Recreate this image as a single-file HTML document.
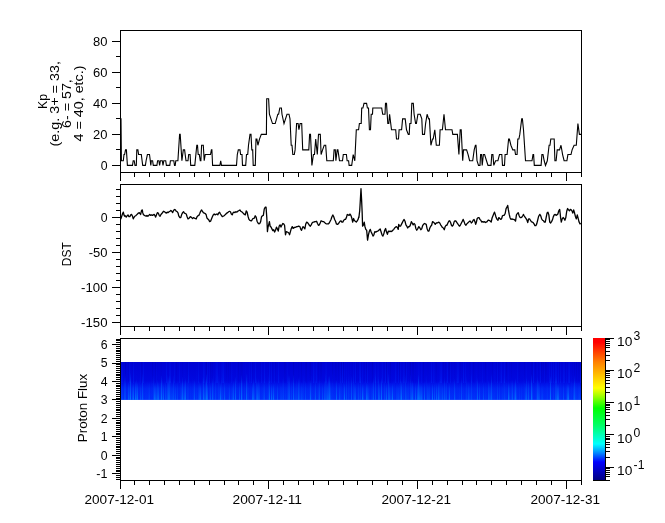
<!DOCTYPE html>
<html><head><meta charset="utf-8"><style>
html,body{margin:0;padding:0;background:#fff;}
svg{display:block;}
text{font-family:"Liberation Sans",sans-serif;fill:#000;}
</style></head><body>
<svg width="665" height="523" viewBox="0 0 665 523">
<rect width="665" height="523" fill="#fff"/>
<defs><linearGradient id="bb" x1="0" y1="0" x2="0" y2="1"><stop offset="0" stop-color="#0002d4"/><stop offset="0.5" stop-color="#0008e0"/><stop offset="0.6" stop-color="#0014ea"/><stop offset="0.7" stop-color="#0020f2"/><stop offset="1" stop-color="#0028fa"/></linearGradient><linearGradient id="st" x1="0" y1="0" x2="0" y2="1"><stop offset="0" stop-color="#0050ff" stop-opacity="0"/><stop offset="0.35" stop-color="#0060ff" stop-opacity="0.6"/><stop offset="1" stop-color="#0090ff" stop-opacity="1"/></linearGradient><linearGradient id="up" x1="0" y1="0" x2="0" y2="1"><stop offset="0" stop-color="#0028ff" stop-opacity="0.3"/><stop offset="1" stop-color="#0030ff" stop-opacity="0.8"/></linearGradient><linearGradient id="dk" x1="0" y1="0" x2="0" y2="1"><stop offset="0" stop-color="#0000a8" stop-opacity="1"/><stop offset="1" stop-color="#0000c8" stop-opacity="0.5"/></linearGradient></defs><rect x="121" y="362.00" width="460" height="37.92" fill="url(#bb)"/><rect x="121" y="362.00" width="1" height="21.00" fill="url(#up)" opacity="0.28"/><rect x="121" y="374.46" width="1" height="25.46" fill="url(#st)" opacity="0.18"/><rect x="122" y="362.00" width="1" height="21.00" fill="url(#up)" opacity="0.29"/><rect x="122" y="382.66" width="1" height="17.26" fill="url(#st)" opacity="0.21"/><rect x="123" y="376.71" width="1" height="23.21" fill="url(#st)" opacity="0.05"/><rect x="124" y="362.00" width="1" height="21.00" fill="url(#up)" opacity="0.05"/><rect x="124" y="376.44" width="1" height="23.48" fill="url(#st)" opacity="0.36"/><rect x="125" y="362.00" width="1" height="21.00" fill="url(#dk)" opacity="0.39"/><rect x="125" y="373.69" width="1" height="26.23" fill="url(#st)" opacity="0.32"/><rect x="126" y="382.75" width="1" height="17.17" fill="url(#st)" opacity="0.05"/><rect x="127" y="362.00" width="1" height="21.00" fill="url(#up)" opacity="0.03"/><rect x="127" y="382.64" width="1" height="17.28" fill="url(#st)" opacity="0.08"/><rect x="128" y="362.00" width="1" height="21.00" fill="url(#dk)" opacity="0.19"/><rect x="128" y="381.06" width="1" height="18.86" fill="url(#st)" opacity="0.53"/><rect x="129" y="362.00" width="1" height="21.00" fill="url(#up)" opacity="0.32"/><rect x="129" y="380.50" width="1" height="19.42" fill="url(#st)" opacity="0.33"/><rect x="130" y="362.00" width="1" height="21.00" fill="url(#up)" opacity="0.14"/><rect x="130" y="373.05" width="1" height="26.87" fill="url(#st)" opacity="0.74"/><rect x="131" y="377.99" width="1" height="21.93" fill="url(#st)" opacity="0.11"/><rect x="132" y="362.00" width="1" height="21.00" fill="url(#dk)" opacity="0.12"/><rect x="132" y="382.95" width="1" height="16.97" fill="url(#st)" opacity="0.44"/><rect x="133" y="362.00" width="1" height="21.00" fill="url(#up)" opacity="0.42"/><rect x="133" y="381.51" width="1" height="18.41" fill="url(#st)" opacity="0.69"/><rect x="134" y="383.00" width="1" height="16.92" fill="url(#st)" opacity="0.07"/><rect x="135" y="380.79" width="1" height="19.13" fill="url(#st)" opacity="0.72"/><rect x="136" y="362.00" width="1" height="21.00" fill="url(#up)" opacity="0.04"/><rect x="136" y="379.04" width="1" height="20.88" fill="url(#st)" opacity="0.45"/><rect x="137" y="362.00" width="1" height="21.00" fill="url(#dk)" opacity="0.03"/><rect x="137" y="381.89" width="1" height="18.03" fill="url(#st)" opacity="0.70"/><rect x="138" y="382.86" width="1" height="17.06" fill="url(#st)" opacity="0.08"/><rect x="139" y="362.00" width="1" height="21.00" fill="url(#dk)" opacity="0.02"/><rect x="139" y="376.65" width="1" height="23.27" fill="url(#st)" opacity="0.07"/><rect x="140" y="362.00" width="1" height="21.00" fill="url(#up)" opacity="0.22"/><rect x="140" y="382.64" width="1" height="17.28" fill="url(#st)" opacity="0.40"/><rect x="141" y="362.00" width="1" height="21.00" fill="url(#dk)" opacity="0.26"/><rect x="141" y="382.86" width="1" height="17.06" fill="url(#st)" opacity="0.15"/><rect x="142" y="362.00" width="1" height="21.00" fill="url(#dk)" opacity="0.11"/><rect x="142" y="373.57" width="1" height="26.35" fill="url(#st)" opacity="0.48"/><rect x="143" y="362.00" width="1" height="21.00" fill="url(#up)" opacity="0.44"/><rect x="143" y="382.56" width="1" height="17.36" fill="url(#st)" opacity="0.14"/><rect x="144" y="378.88" width="1" height="21.04" fill="url(#st)" opacity="0.05"/><rect x="145" y="382.55" width="1" height="17.37" fill="url(#st)" opacity="0.09"/><rect x="146" y="381.92" width="1" height="18.00" fill="url(#st)" opacity="0.10"/><rect x="147" y="362.00" width="1" height="21.00" fill="url(#dk)" opacity="0.04"/><rect x="147" y="379.60" width="1" height="20.32" fill="url(#st)" opacity="0.08"/><rect x="148" y="381.62" width="1" height="18.30" fill="url(#st)" opacity="0.17"/><rect x="149" y="380.66" width="1" height="19.26" fill="url(#st)" opacity="0.26"/><rect x="150" y="382.67" width="1" height="17.25" fill="url(#st)" opacity="0.06"/><rect x="151" y="376.31" width="1" height="23.61" fill="url(#st)" opacity="0.08"/><rect x="152" y="362.00" width="1" height="21.00" fill="url(#dk)" opacity="0.30"/><rect x="152" y="374.16" width="1" height="25.76" fill="url(#st)" opacity="0.07"/><rect x="153" y="375.22" width="1" height="24.70" fill="url(#st)" opacity="0.28"/><rect x="154" y="362.00" width="1" height="21.00" fill="url(#up)" opacity="0.05"/><rect x="154" y="382.99" width="1" height="16.93" fill="url(#st)" opacity="0.69"/><rect x="155" y="362.00" width="1" height="21.00" fill="url(#dk)" opacity="0.28"/><rect x="155" y="382.34" width="1" height="17.58" fill="url(#st)" opacity="0.51"/><rect x="156" y="362.00" width="1" height="21.00" fill="url(#up)" opacity="0.15"/><rect x="156" y="382.69" width="1" height="17.23" fill="url(#st)" opacity="0.39"/><rect x="157" y="362.00" width="1" height="21.00" fill="url(#dk)" opacity="0.09"/><rect x="157" y="379.87" width="1" height="20.05" fill="url(#st)" opacity="0.54"/><rect x="158" y="382.21" width="1" height="17.71" fill="url(#st)" opacity="0.63"/><rect x="159" y="362.00" width="1" height="21.00" fill="url(#dk)" opacity="0.01"/><rect x="159" y="382.28" width="1" height="17.64" fill="url(#st)" opacity="0.17"/><rect x="160" y="362.00" width="1" height="21.00" fill="url(#dk)" opacity="0.07"/><rect x="160" y="381.64" width="1" height="18.28" fill="url(#st)" opacity="0.25"/><rect x="161" y="362.00" width="1" height="21.00" fill="url(#dk)" opacity="0.14"/><rect x="161" y="375.06" width="1" height="24.86" fill="url(#st)" opacity="0.72"/><rect x="162" y="378.22" width="1" height="21.70" fill="url(#st)" opacity="0.26"/><rect x="163" y="362.00" width="1" height="21.00" fill="url(#dk)" opacity="0.01"/><rect x="163" y="383.00" width="1" height="16.92" fill="url(#st)" opacity="0.62"/><rect x="164" y="373.73" width="1" height="26.19" fill="url(#st)" opacity="0.05"/><rect x="165" y="380.67" width="1" height="19.25" fill="url(#st)" opacity="0.40"/><rect x="166" y="362.00" width="1" height="21.00" fill="url(#up)" opacity="0.50"/><rect x="166" y="382.94" width="1" height="16.98" fill="url(#st)" opacity="0.23"/><rect x="167" y="374.90" width="1" height="25.02" fill="url(#st)" opacity="0.41"/><rect x="168" y="376.71" width="1" height="23.21" fill="url(#st)" opacity="0.63"/><rect x="169" y="362.00" width="1" height="21.00" fill="url(#up)" opacity="0.34"/><rect x="169" y="374.88" width="1" height="25.04" fill="url(#st)" opacity="0.57"/><rect x="170" y="362.00" width="1" height="21.00" fill="url(#up)" opacity="0.40"/><rect x="170" y="375.54" width="1" height="24.38" fill="url(#st)" opacity="0.26"/><rect x="171" y="381.54" width="1" height="18.38" fill="url(#st)" opacity="0.26"/><rect x="172" y="382.94" width="1" height="16.98" fill="url(#st)" opacity="0.31"/><rect x="173" y="375.26" width="1" height="24.66" fill="url(#st)" opacity="0.40"/><rect x="174" y="362.00" width="1" height="21.00" fill="url(#up)" opacity="0.37"/><rect x="174" y="379.62" width="1" height="20.30" fill="url(#st)" opacity="0.17"/><rect x="175" y="382.93" width="1" height="16.99" fill="url(#st)" opacity="0.42"/><rect x="176" y="362.00" width="1" height="21.00" fill="url(#dk)" opacity="0.24"/><rect x="176" y="380.69" width="1" height="19.23" fill="url(#st)" opacity="0.08"/><rect x="177" y="380.53" width="1" height="19.39" fill="url(#st)" opacity="0.29"/><rect x="178" y="382.35" width="1" height="17.57" fill="url(#st)" opacity="0.05"/><rect x="179" y="362.00" width="1" height="21.00" fill="url(#up)" opacity="0.34"/><rect x="179" y="382.59" width="1" height="17.33" fill="url(#st)" opacity="0.06"/><rect x="180" y="378.64" width="1" height="21.28" fill="url(#st)" opacity="0.17"/><rect x="181" y="381.93" width="1" height="17.99" fill="url(#st)" opacity="0.34"/><rect x="182" y="362.00" width="1" height="21.00" fill="url(#dk)" opacity="0.17"/><rect x="182" y="376.50" width="1" height="23.42" fill="url(#st)" opacity="0.62"/><rect x="183" y="381.52" width="1" height="18.40" fill="url(#st)" opacity="0.26"/><rect x="184" y="362.00" width="1" height="21.00" fill="url(#up)" opacity="0.07"/><rect x="184" y="380.54" width="1" height="19.38" fill="url(#st)" opacity="0.52"/><rect x="185" y="377.94" width="1" height="21.98" fill="url(#st)" opacity="0.68"/><rect x="186" y="362.00" width="1" height="21.00" fill="url(#dk)" opacity="0.07"/><rect x="186" y="380.97" width="1" height="18.95" fill="url(#st)" opacity="0.09"/><rect x="187" y="362.00" width="1" height="21.00" fill="url(#dk)" opacity="0.17"/><rect x="187" y="379.08" width="1" height="20.84" fill="url(#st)" opacity="0.20"/><rect x="188" y="362.00" width="1" height="21.00" fill="url(#up)" opacity="0.42"/><rect x="188" y="373.36" width="1" height="26.56" fill="url(#st)" opacity="0.17"/><rect x="189" y="362.00" width="1" height="21.00" fill="url(#dk)" opacity="0.01"/><rect x="189" y="375.38" width="1" height="24.54" fill="url(#st)" opacity="0.05"/><rect x="190" y="379.74" width="1" height="20.18" fill="url(#st)" opacity="0.10"/><rect x="191" y="383.00" width="1" height="16.92" fill="url(#st)" opacity="0.06"/><rect x="192" y="362.00" width="1" height="21.00" fill="url(#up)" opacity="0.01"/><rect x="192" y="376.12" width="1" height="23.80" fill="url(#st)" opacity="0.08"/><rect x="193" y="362.00" width="1" height="21.00" fill="url(#dk)" opacity="0.02"/><rect x="193" y="379.04" width="1" height="20.88" fill="url(#st)" opacity="0.17"/><rect x="194" y="378.71" width="1" height="21.21" fill="url(#st)" opacity="0.49"/><rect x="195" y="378.31" width="1" height="21.61" fill="url(#st)" opacity="0.07"/><rect x="196" y="362.00" width="1" height="21.00" fill="url(#up)" opacity="0.09"/><rect x="196" y="383.00" width="1" height="16.92" fill="url(#st)" opacity="0.18"/><rect x="197" y="382.68" width="1" height="17.24" fill="url(#st)" opacity="0.09"/><rect x="198" y="362.00" width="1" height="21.00" fill="url(#up)" opacity="0.35"/><rect x="198" y="380.29" width="1" height="19.63" fill="url(#st)" opacity="0.29"/><rect x="199" y="381.45" width="1" height="18.47" fill="url(#st)" opacity="0.47"/><rect x="200" y="382.92" width="1" height="17.00" fill="url(#st)" opacity="0.65"/><rect x="201" y="382.83" width="1" height="17.09" fill="url(#st)" opacity="0.17"/><rect x="202" y="374.72" width="1" height="25.20" fill="url(#st)" opacity="0.13"/><rect x="203" y="362.00" width="1" height="21.00" fill="url(#up)" opacity="0.44"/><rect x="203" y="376.65" width="1" height="23.27" fill="url(#st)" opacity="0.67"/><rect x="204" y="362.00" width="1" height="21.00" fill="url(#up)" opacity="0.33"/><rect x="204" y="382.58" width="1" height="17.34" fill="url(#st)" opacity="0.39"/><rect x="205" y="378.88" width="1" height="21.04" fill="url(#st)" opacity="0.39"/><rect x="206" y="362.00" width="1" height="21.00" fill="url(#dk)" opacity="0.36"/><rect x="206" y="373.39" width="1" height="26.53" fill="url(#st)" opacity="0.72"/><rect x="207" y="362.00" width="1" height="21.00" fill="url(#up)" opacity="0.40"/><rect x="207" y="381.97" width="1" height="17.95" fill="url(#st)" opacity="0.62"/><rect x="208" y="381.79" width="1" height="18.13" fill="url(#st)" opacity="0.05"/><rect x="209" y="362.00" width="1" height="21.00" fill="url(#up)" opacity="0.28"/><rect x="209" y="377.10" width="1" height="22.82" fill="url(#st)" opacity="0.19"/><rect x="210" y="362.00" width="1" height="21.00" fill="url(#dk)" opacity="0.32"/><rect x="210" y="382.96" width="1" height="16.96" fill="url(#st)" opacity="0.48"/><rect x="211" y="362.00" width="1" height="21.00" fill="url(#dk)" opacity="0.13"/><rect x="211" y="376.79" width="1" height="23.13" fill="url(#st)" opacity="0.06"/><rect x="212" y="362.00" width="1" height="21.00" fill="url(#dk)" opacity="0.21"/><rect x="212" y="377.76" width="1" height="22.16" fill="url(#st)" opacity="0.53"/><rect x="213" y="374.06" width="1" height="25.86" fill="url(#st)" opacity="0.20"/><rect x="214" y="382.93" width="1" height="16.99" fill="url(#st)" opacity="0.08"/><rect x="215" y="362.00" width="1" height="21.00" fill="url(#up)" opacity="0.15"/><rect x="215" y="377.69" width="1" height="22.23" fill="url(#st)" opacity="0.31"/><rect x="216" y="362.00" width="1" height="21.00" fill="url(#up)" opacity="0.42"/><rect x="216" y="379.86" width="1" height="20.06" fill="url(#st)" opacity="0.10"/><rect x="217" y="362.00" width="1" height="21.00" fill="url(#up)" opacity="0.42"/><rect x="217" y="374.89" width="1" height="25.03" fill="url(#st)" opacity="0.07"/><rect x="218" y="373.62" width="1" height="26.30" fill="url(#st)" opacity="0.22"/><rect x="219" y="362.00" width="1" height="21.00" fill="url(#up)" opacity="0.10"/><rect x="219" y="380.13" width="1" height="19.79" fill="url(#st)" opacity="0.20"/><rect x="220" y="382.99" width="1" height="16.93" fill="url(#st)" opacity="0.70"/><rect x="221" y="362.00" width="1" height="21.00" fill="url(#up)" opacity="0.20"/><rect x="221" y="376.58" width="1" height="23.34" fill="url(#st)" opacity="0.25"/><rect x="222" y="362.00" width="1" height="21.00" fill="url(#up)" opacity="0.35"/><rect x="222" y="382.96" width="1" height="16.96" fill="url(#st)" opacity="0.23"/><rect x="223" y="362.00" width="1" height="21.00" fill="url(#up)" opacity="0.48"/><rect x="223" y="374.47" width="1" height="25.45" fill="url(#st)" opacity="0.09"/><rect x="224" y="362.00" width="1" height="21.00" fill="url(#up)" opacity="0.06"/><rect x="224" y="381.12" width="1" height="18.80" fill="url(#st)" opacity="0.50"/><rect x="225" y="380.73" width="1" height="19.19" fill="url(#st)" opacity="0.11"/><rect x="226" y="362.00" width="1" height="21.00" fill="url(#dk)" opacity="0.25"/><rect x="226" y="374.44" width="1" height="25.48" fill="url(#st)" opacity="0.06"/><rect x="227" y="382.99" width="1" height="16.93" fill="url(#st)" opacity="0.07"/><rect x="228" y="362.00" width="1" height="21.00" fill="url(#dk)" opacity="0.27"/><rect x="228" y="381.96" width="1" height="17.96" fill="url(#st)" opacity="0.12"/><rect x="229" y="382.89" width="1" height="17.03" fill="url(#st)" opacity="0.40"/><rect x="230" y="362.00" width="1" height="21.00" fill="url(#dk)" opacity="0.20"/><rect x="230" y="382.37" width="1" height="17.55" fill="url(#st)" opacity="0.07"/><rect x="231" y="362.00" width="1" height="21.00" fill="url(#up)" opacity="0.22"/><rect x="231" y="381.59" width="1" height="18.33" fill="url(#st)" opacity="0.15"/><rect x="232" y="362.00" width="1" height="21.00" fill="url(#up)" opacity="0.08"/><rect x="232" y="382.58" width="1" height="17.34" fill="url(#st)" opacity="0.30"/><rect x="233" y="380.20" width="1" height="19.72" fill="url(#st)" opacity="0.54"/><rect x="234" y="375.66" width="1" height="24.26" fill="url(#st)" opacity="0.08"/><rect x="235" y="376.43" width="1" height="23.49" fill="url(#st)" opacity="0.61"/><rect x="236" y="362.00" width="1" height="21.00" fill="url(#up)" opacity="0.16"/><rect x="236" y="374.49" width="1" height="25.43" fill="url(#st)" opacity="0.07"/><rect x="237" y="375.12" width="1" height="24.80" fill="url(#st)" opacity="0.06"/><rect x="238" y="362.00" width="1" height="21.00" fill="url(#dk)" opacity="0.29"/><rect x="238" y="382.33" width="1" height="17.59" fill="url(#st)" opacity="0.05"/><rect x="239" y="381.22" width="1" height="18.70" fill="url(#st)" opacity="0.47"/><rect x="240" y="362.00" width="1" height="21.00" fill="url(#dk)" opacity="0.16"/><rect x="240" y="378.30" width="1" height="21.62" fill="url(#st)" opacity="0.05"/><rect x="241" y="362.00" width="1" height="21.00" fill="url(#dk)" opacity="0.27"/><rect x="241" y="374.69" width="1" height="25.23" fill="url(#st)" opacity="0.70"/><rect x="242" y="362.00" width="1" height="21.00" fill="url(#dk)" opacity="0.20"/><rect x="242" y="377.25" width="1" height="22.67" fill="url(#st)" opacity="0.20"/><rect x="243" y="382.64" width="1" height="17.28" fill="url(#st)" opacity="0.05"/><rect x="244" y="362.00" width="1" height="21.00" fill="url(#dk)" opacity="0.01"/><rect x="244" y="379.96" width="1" height="19.96" fill="url(#st)" opacity="0.21"/><rect x="245" y="362.00" width="1" height="21.00" fill="url(#up)" opacity="0.07"/><rect x="245" y="382.66" width="1" height="17.26" fill="url(#st)" opacity="0.07"/><rect x="246" y="373.19" width="1" height="26.73" fill="url(#st)" opacity="0.64"/><rect x="247" y="362.00" width="1" height="21.00" fill="url(#dk)" opacity="0.02"/><rect x="247" y="373.95" width="1" height="25.97" fill="url(#st)" opacity="0.18"/><rect x="248" y="381.93" width="1" height="17.99" fill="url(#st)" opacity="0.18"/><rect x="249" y="362.00" width="1" height="21.00" fill="url(#up)" opacity="0.22"/><rect x="249" y="379.39" width="1" height="20.53" fill="url(#st)" opacity="0.05"/><rect x="250" y="375.87" width="1" height="24.05" fill="url(#st)" opacity="0.07"/><rect x="251" y="362.00" width="1" height="21.00" fill="url(#up)" opacity="0.37"/><rect x="251" y="381.36" width="1" height="18.56" fill="url(#st)" opacity="0.07"/><rect x="252" y="362.00" width="1" height="21.00" fill="url(#dk)" opacity="0.21"/><rect x="252" y="383.00" width="1" height="16.92" fill="url(#st)" opacity="0.60"/><rect x="253" y="378.03" width="1" height="21.89" fill="url(#st)" opacity="0.55"/><rect x="254" y="381.36" width="1" height="18.56" fill="url(#st)" opacity="0.28"/><rect x="255" y="362.00" width="1" height="21.00" fill="url(#up)" opacity="0.49"/><rect x="255" y="376.52" width="1" height="23.40" fill="url(#st)" opacity="0.09"/><rect x="256" y="377.46" width="1" height="22.46" fill="url(#st)" opacity="0.45"/><rect x="257" y="381.35" width="1" height="18.57" fill="url(#st)" opacity="0.60"/><rect x="258" y="378.17" width="1" height="21.75" fill="url(#st)" opacity="0.44"/><rect x="259" y="381.35" width="1" height="18.57" fill="url(#st)" opacity="0.39"/><rect x="260" y="362.00" width="1" height="21.00" fill="url(#dk)" opacity="0.14"/><rect x="260" y="380.80" width="1" height="19.12" fill="url(#st)" opacity="0.05"/><rect x="261" y="362.00" width="1" height="21.00" fill="url(#up)" opacity="0.32"/><rect x="261" y="379.11" width="1" height="20.81" fill="url(#st)" opacity="0.08"/><rect x="262" y="378.56" width="1" height="21.36" fill="url(#st)" opacity="0.11"/><rect x="263" y="379.76" width="1" height="20.16" fill="url(#st)" opacity="0.23"/><rect x="264" y="362.00" width="1" height="21.00" fill="url(#up)" opacity="0.50"/><rect x="264" y="378.87" width="1" height="21.05" fill="url(#st)" opacity="0.37"/><rect x="265" y="373.39" width="1" height="26.53" fill="url(#st)" opacity="0.05"/><rect x="266" y="377.54" width="1" height="22.38" fill="url(#st)" opacity="0.09"/><rect x="267" y="362.00" width="1" height="21.00" fill="url(#up)" opacity="0.03"/><rect x="267" y="382.62" width="1" height="17.30" fill="url(#st)" opacity="0.13"/><rect x="268" y="362.00" width="1" height="21.00" fill="url(#dk)" opacity="0.10"/><rect x="268" y="374.80" width="1" height="25.12" fill="url(#st)" opacity="0.24"/><rect x="269" y="362.00" width="1" height="21.00" fill="url(#up)" opacity="0.48"/><rect x="269" y="379.77" width="1" height="20.15" fill="url(#st)" opacity="0.74"/><rect x="270" y="376.45" width="1" height="23.47" fill="url(#st)" opacity="0.05"/><rect x="271" y="362.00" width="1" height="21.00" fill="url(#up)" opacity="0.38"/><rect x="271" y="382.98" width="1" height="16.94" fill="url(#st)" opacity="0.65"/><rect x="272" y="362.00" width="1" height="21.00" fill="url(#dk)" opacity="0.19"/><rect x="272" y="382.71" width="1" height="17.21" fill="url(#st)" opacity="0.20"/><rect x="273" y="382.97" width="1" height="16.95" fill="url(#st)" opacity="0.67"/><rect x="274" y="362.00" width="1" height="21.00" fill="url(#up)" opacity="0.26"/><rect x="274" y="379.43" width="1" height="20.49" fill="url(#st)" opacity="0.13"/><rect x="275" y="362.00" width="1" height="21.00" fill="url(#dk)" opacity="0.26"/><rect x="275" y="379.86" width="1" height="20.06" fill="url(#st)" opacity="0.09"/><rect x="276" y="382.12" width="1" height="17.80" fill="url(#st)" opacity="0.05"/><rect x="277" y="362.00" width="1" height="21.00" fill="url(#dk)" opacity="0.02"/><rect x="277" y="382.75" width="1" height="17.17" fill="url(#st)" opacity="0.43"/><rect x="278" y="362.00" width="1" height="21.00" fill="url(#up)" opacity="0.45"/><rect x="278" y="377.40" width="1" height="22.52" fill="url(#st)" opacity="0.05"/><rect x="279" y="374.08" width="1" height="25.84" fill="url(#st)" opacity="0.05"/><rect x="280" y="381.16" width="1" height="18.76" fill="url(#st)" opacity="0.19"/><rect x="281" y="382.41" width="1" height="17.51" fill="url(#st)" opacity="0.22"/><rect x="282" y="377.78" width="1" height="22.14" fill="url(#st)" opacity="0.18"/><rect x="283" y="376.33" width="1" height="23.59" fill="url(#st)" opacity="0.28"/><rect x="284" y="362.00" width="1" height="21.00" fill="url(#dk)" opacity="0.25"/><rect x="284" y="380.92" width="1" height="19.00" fill="url(#st)" opacity="0.07"/><rect x="285" y="362.00" width="1" height="21.00" fill="url(#dk)" opacity="0.21"/><rect x="285" y="382.85" width="1" height="17.07" fill="url(#st)" opacity="0.17"/><rect x="286" y="380.92" width="1" height="19.00" fill="url(#st)" opacity="0.09"/><rect x="287" y="362.00" width="1" height="21.00" fill="url(#up)" opacity="0.21"/><rect x="287" y="376.95" width="1" height="22.97" fill="url(#st)" opacity="0.22"/><rect x="288" y="373.92" width="1" height="26.00" fill="url(#st)" opacity="0.40"/><rect x="289" y="362.00" width="1" height="21.00" fill="url(#dk)" opacity="0.05"/><rect x="289" y="375.03" width="1" height="24.89" fill="url(#st)" opacity="0.46"/><rect x="290" y="381.71" width="1" height="18.21" fill="url(#st)" opacity="0.09"/><rect x="291" y="379.81" width="1" height="20.11" fill="url(#st)" opacity="0.27"/><rect x="292" y="377.32" width="1" height="22.60" fill="url(#st)" opacity="0.07"/><rect x="293" y="362.00" width="1" height="21.00" fill="url(#dk)" opacity="0.39"/><rect x="293" y="374.61" width="1" height="25.31" fill="url(#st)" opacity="0.58"/><rect x="294" y="362.00" width="1" height="21.00" fill="url(#dk)" opacity="0.02"/><rect x="294" y="382.27" width="1" height="17.65" fill="url(#st)" opacity="0.16"/><rect x="295" y="382.89" width="1" height="17.03" fill="url(#st)" opacity="0.23"/><rect x="296" y="362.00" width="1" height="21.00" fill="url(#dk)" opacity="0.03"/><rect x="296" y="378.43" width="1" height="21.49" fill="url(#st)" opacity="0.24"/><rect x="297" y="381.61" width="1" height="18.31" fill="url(#st)" opacity="0.19"/><rect x="298" y="362.00" width="1" height="21.00" fill="url(#dk)" opacity="0.14"/><rect x="298" y="377.45" width="1" height="22.47" fill="url(#st)" opacity="0.53"/><rect x="299" y="362.00" width="1" height="21.00" fill="url(#dk)" opacity="0.05"/><rect x="299" y="376.45" width="1" height="23.47" fill="url(#st)" opacity="0.30"/><rect x="300" y="382.55" width="1" height="17.37" fill="url(#st)" opacity="0.16"/><rect x="301" y="362.00" width="1" height="21.00" fill="url(#dk)" opacity="0.32"/><rect x="301" y="381.64" width="1" height="18.28" fill="url(#st)" opacity="0.32"/><rect x="302" y="381.94" width="1" height="17.98" fill="url(#st)" opacity="0.24"/><rect x="303" y="374.52" width="1" height="25.40" fill="url(#st)" opacity="0.16"/><rect x="304" y="362.00" width="1" height="21.00" fill="url(#up)" opacity="0.05"/><rect x="304" y="375.34" width="1" height="24.58" fill="url(#st)" opacity="0.05"/><rect x="305" y="362.00" width="1" height="21.00" fill="url(#dk)" opacity="0.23"/><rect x="305" y="380.65" width="1" height="19.27" fill="url(#st)" opacity="0.35"/><rect x="306" y="362.00" width="1" height="21.00" fill="url(#dk)" opacity="0.31"/><rect x="306" y="382.94" width="1" height="16.98" fill="url(#st)" opacity="0.07"/><rect x="307" y="382.93" width="1" height="16.99" fill="url(#st)" opacity="0.10"/><rect x="308" y="378.18" width="1" height="21.74" fill="url(#st)" opacity="0.09"/><rect x="309" y="362.00" width="1" height="21.00" fill="url(#dk)" opacity="0.14"/><rect x="309" y="377.73" width="1" height="22.19" fill="url(#st)" opacity="0.13"/><rect x="310" y="362.00" width="1" height="21.00" fill="url(#dk)" opacity="0.28"/><rect x="310" y="379.76" width="1" height="20.16" fill="url(#st)" opacity="0.63"/><rect x="311" y="374.66" width="1" height="25.26" fill="url(#st)" opacity="0.16"/><rect x="312" y="382.07" width="1" height="17.85" fill="url(#st)" opacity="0.11"/><rect x="313" y="362.00" width="1" height="21.00" fill="url(#up)" opacity="0.47"/><rect x="313" y="374.99" width="1" height="24.93" fill="url(#st)" opacity="0.08"/><rect x="314" y="362.00" width="1" height="21.00" fill="url(#up)" opacity="0.18"/><rect x="314" y="381.68" width="1" height="18.24" fill="url(#st)" opacity="0.14"/><rect x="315" y="362.00" width="1" height="21.00" fill="url(#up)" opacity="0.10"/><rect x="315" y="379.82" width="1" height="20.10" fill="url(#st)" opacity="0.48"/><rect x="316" y="362.00" width="1" height="21.00" fill="url(#up)" opacity="0.42"/><rect x="316" y="379.83" width="1" height="20.09" fill="url(#st)" opacity="0.07"/><rect x="317" y="375.24" width="1" height="24.68" fill="url(#st)" opacity="0.09"/><rect x="318" y="362.00" width="1" height="21.00" fill="url(#dk)" opacity="0.21"/><rect x="318" y="380.04" width="1" height="19.88" fill="url(#st)" opacity="0.25"/><rect x="319" y="378.76" width="1" height="21.16" fill="url(#st)" opacity="0.48"/><rect x="320" y="362.00" width="1" height="21.00" fill="url(#dk)" opacity="0.22"/><rect x="320" y="376.79" width="1" height="23.13" fill="url(#st)" opacity="0.05"/><rect x="321" y="362.00" width="1" height="21.00" fill="url(#dk)" opacity="0.29"/><rect x="321" y="374.92" width="1" height="25.00" fill="url(#st)" opacity="0.05"/><rect x="322" y="382.79" width="1" height="17.13" fill="url(#st)" opacity="0.42"/><rect x="323" y="382.40" width="1" height="17.52" fill="url(#st)" opacity="0.08"/><rect x="324" y="380.28" width="1" height="19.64" fill="url(#st)" opacity="0.44"/><rect x="325" y="362.00" width="1" height="21.00" fill="url(#up)" opacity="0.17"/><rect x="325" y="373.62" width="1" height="26.30" fill="url(#st)" opacity="0.34"/><rect x="326" y="362.00" width="1" height="21.00" fill="url(#up)" opacity="0.27"/><rect x="326" y="377.80" width="1" height="22.12" fill="url(#st)" opacity="0.38"/><rect x="327" y="381.31" width="1" height="18.61" fill="url(#st)" opacity="0.51"/><rect x="328" y="375.72" width="1" height="24.20" fill="url(#st)" opacity="0.49"/><rect x="329" y="375.10" width="1" height="24.82" fill="url(#st)" opacity="0.69"/><rect x="330" y="380.26" width="1" height="19.66" fill="url(#st)" opacity="0.38"/><rect x="331" y="381.22" width="1" height="18.70" fill="url(#st)" opacity="0.15"/><rect x="332" y="362.00" width="1" height="21.00" fill="url(#dk)" opacity="0.30"/><rect x="332" y="373.18" width="1" height="26.74" fill="url(#st)" opacity="0.13"/><rect x="333" y="362.00" width="1" height="21.00" fill="url(#dk)" opacity="0.08"/><rect x="333" y="381.19" width="1" height="18.73" fill="url(#st)" opacity="0.10"/><rect x="334" y="382.96" width="1" height="16.96" fill="url(#st)" opacity="0.10"/><rect x="335" y="362.00" width="1" height="21.00" fill="url(#dk)" opacity="0.26"/><rect x="335" y="376.98" width="1" height="22.94" fill="url(#st)" opacity="0.07"/><rect x="336" y="362.00" width="1" height="21.00" fill="url(#dk)" opacity="0.18"/><rect x="336" y="379.59" width="1" height="20.33" fill="url(#st)" opacity="0.62"/><rect x="337" y="362.00" width="1" height="21.00" fill="url(#dk)" opacity="0.04"/><rect x="337" y="382.66" width="1" height="17.26" fill="url(#st)" opacity="0.07"/><rect x="338" y="362.00" width="1" height="21.00" fill="url(#dk)" opacity="0.29"/><rect x="338" y="379.46" width="1" height="20.46" fill="url(#st)" opacity="0.08"/><rect x="339" y="362.00" width="1" height="21.00" fill="url(#dk)" opacity="0.11"/><rect x="339" y="382.70" width="1" height="17.22" fill="url(#st)" opacity="0.43"/><rect x="340" y="362.00" width="1" height="21.00" fill="url(#up)" opacity="0.27"/><rect x="340" y="376.32" width="1" height="23.60" fill="url(#st)" opacity="0.19"/><rect x="341" y="362.00" width="1" height="21.00" fill="url(#dk)" opacity="0.35"/><rect x="341" y="374.64" width="1" height="25.28" fill="url(#st)" opacity="0.12"/><rect x="342" y="362.00" width="1" height="21.00" fill="url(#up)" opacity="0.48"/><rect x="342" y="380.67" width="1" height="19.25" fill="url(#st)" opacity="0.08"/><rect x="343" y="362.00" width="1" height="21.00" fill="url(#dk)" opacity="0.38"/><rect x="343" y="376.58" width="1" height="23.34" fill="url(#st)" opacity="0.14"/><rect x="344" y="362.00" width="1" height="21.00" fill="url(#up)" opacity="0.26"/><rect x="344" y="382.25" width="1" height="17.67" fill="url(#st)" opacity="0.74"/><rect x="345" y="382.44" width="1" height="17.48" fill="url(#st)" opacity="0.05"/><rect x="346" y="362.00" width="1" height="21.00" fill="url(#up)" opacity="0.19"/><rect x="346" y="376.65" width="1" height="23.27" fill="url(#st)" opacity="0.38"/><rect x="347" y="382.75" width="1" height="17.17" fill="url(#st)" opacity="0.06"/><rect x="348" y="362.00" width="1" height="21.00" fill="url(#up)" opacity="0.13"/><rect x="348" y="375.44" width="1" height="24.48" fill="url(#st)" opacity="0.21"/><rect x="349" y="373.14" width="1" height="26.78" fill="url(#st)" opacity="0.09"/><rect x="350" y="362.00" width="1" height="21.00" fill="url(#up)" opacity="0.08"/><rect x="350" y="377.07" width="1" height="22.85" fill="url(#st)" opacity="0.05"/><rect x="351" y="375.84" width="1" height="24.08" fill="url(#st)" opacity="0.50"/><rect x="352" y="362.00" width="1" height="21.00" fill="url(#dk)" opacity="0.11"/><rect x="352" y="377.87" width="1" height="22.05" fill="url(#st)" opacity="0.05"/><rect x="353" y="362.00" width="1" height="21.00" fill="url(#up)" opacity="0.23"/><rect x="353" y="373.87" width="1" height="26.05" fill="url(#st)" opacity="0.27"/><rect x="354" y="382.08" width="1" height="17.84" fill="url(#st)" opacity="0.47"/><rect x="355" y="362.00" width="1" height="21.00" fill="url(#up)" opacity="0.46"/><rect x="355" y="382.92" width="1" height="17.00" fill="url(#st)" opacity="0.51"/><rect x="356" y="362.00" width="1" height="21.00" fill="url(#dk)" opacity="0.22"/><rect x="356" y="380.24" width="1" height="19.68" fill="url(#st)" opacity="0.06"/><rect x="357" y="382.03" width="1" height="17.89" fill="url(#st)" opacity="0.10"/><rect x="358" y="362.00" width="1" height="21.00" fill="url(#dk)" opacity="0.12"/><rect x="358" y="380.82" width="1" height="19.10" fill="url(#st)" opacity="0.38"/><rect x="359" y="362.00" width="1" height="21.00" fill="url(#up)" opacity="0.34"/><rect x="359" y="382.89" width="1" height="17.03" fill="url(#st)" opacity="0.14"/><rect x="360" y="362.00" width="1" height="21.00" fill="url(#up)" opacity="0.48"/><rect x="360" y="376.12" width="1" height="23.80" fill="url(#st)" opacity="0.32"/><rect x="361" y="362.00" width="1" height="21.00" fill="url(#dk)" opacity="0.15"/><rect x="361" y="377.96" width="1" height="21.96" fill="url(#st)" opacity="0.08"/><rect x="362" y="362.00" width="1" height="21.00" fill="url(#up)" opacity="0.23"/><rect x="362" y="383.00" width="1" height="16.92" fill="url(#st)" opacity="0.74"/><rect x="363" y="382.57" width="1" height="17.35" fill="url(#st)" opacity="0.29"/><rect x="364" y="362.00" width="1" height="21.00" fill="url(#dk)" opacity="0.15"/><rect x="364" y="380.09" width="1" height="19.83" fill="url(#st)" opacity="0.10"/><rect x="365" y="362.00" width="1" height="21.00" fill="url(#up)" opacity="0.20"/><rect x="365" y="378.56" width="1" height="21.36" fill="url(#st)" opacity="0.09"/><rect x="366" y="362.00" width="1" height="21.00" fill="url(#dk)" opacity="0.29"/><rect x="366" y="381.91" width="1" height="18.01" fill="url(#st)" opacity="0.67"/><rect x="367" y="362.00" width="1" height="21.00" fill="url(#up)" opacity="0.36"/><rect x="367" y="381.90" width="1" height="18.02" fill="url(#st)" opacity="0.51"/><rect x="368" y="362.00" width="1" height="21.00" fill="url(#dk)" opacity="0.06"/><rect x="368" y="382.91" width="1" height="17.01" fill="url(#st)" opacity="0.35"/><rect x="369" y="382.68" width="1" height="17.24" fill="url(#st)" opacity="0.14"/><rect x="370" y="379.49" width="1" height="20.43" fill="url(#st)" opacity="0.05"/><rect x="371" y="362.00" width="1" height="21.00" fill="url(#dk)" opacity="0.06"/><rect x="371" y="382.85" width="1" height="17.07" fill="url(#st)" opacity="0.15"/><rect x="372" y="362.00" width="1" height="21.00" fill="url(#dk)" opacity="0.37"/><rect x="372" y="381.18" width="1" height="18.74" fill="url(#st)" opacity="0.21"/><rect x="373" y="377.12" width="1" height="22.80" fill="url(#st)" opacity="0.50"/><rect x="374" y="362.00" width="1" height="21.00" fill="url(#up)" opacity="0.17"/><rect x="374" y="381.30" width="1" height="18.62" fill="url(#st)" opacity="0.05"/><rect x="375" y="362.00" width="1" height="21.00" fill="url(#up)" opacity="0.35"/><rect x="375" y="373.36" width="1" height="26.56" fill="url(#st)" opacity="0.47"/><rect x="376" y="379.30" width="1" height="20.62" fill="url(#st)" opacity="0.05"/><rect x="377" y="362.00" width="1" height="21.00" fill="url(#up)" opacity="0.17"/><rect x="377" y="378.77" width="1" height="21.15" fill="url(#st)" opacity="0.06"/><rect x="378" y="362.00" width="1" height="21.00" fill="url(#up)" opacity="0.25"/><rect x="378" y="376.78" width="1" height="23.14" fill="url(#st)" opacity="0.51"/><rect x="379" y="382.75" width="1" height="17.17" fill="url(#st)" opacity="0.44"/><rect x="380" y="379.99" width="1" height="19.93" fill="url(#st)" opacity="0.12"/><rect x="381" y="362.00" width="1" height="21.00" fill="url(#up)" opacity="0.07"/><rect x="381" y="377.91" width="1" height="22.01" fill="url(#st)" opacity="0.73"/><rect x="382" y="362.00" width="1" height="21.00" fill="url(#up)" opacity="0.36"/><rect x="382" y="376.02" width="1" height="23.90" fill="url(#st)" opacity="0.07"/><rect x="383" y="379.07" width="1" height="20.85" fill="url(#st)" opacity="0.07"/><rect x="384" y="362.00" width="1" height="21.00" fill="url(#dk)" opacity="0.10"/><rect x="384" y="379.68" width="1" height="20.24" fill="url(#st)" opacity="0.37"/><rect x="385" y="362.00" width="1" height="21.00" fill="url(#up)" opacity="0.46"/><rect x="385" y="381.70" width="1" height="18.22" fill="url(#st)" opacity="0.18"/><rect x="386" y="362.00" width="1" height="21.00" fill="url(#dk)" opacity="0.39"/><rect x="386" y="382.82" width="1" height="17.10" fill="url(#st)" opacity="0.61"/><rect x="387" y="362.00" width="1" height="21.00" fill="url(#up)" opacity="0.28"/><rect x="387" y="379.86" width="1" height="20.06" fill="url(#st)" opacity="0.09"/><rect x="388" y="373.16" width="1" height="26.76" fill="url(#st)" opacity="0.50"/><rect x="389" y="382.85" width="1" height="17.07" fill="url(#st)" opacity="0.51"/><rect x="390" y="362.00" width="1" height="21.00" fill="url(#dk)" opacity="0.36"/><rect x="390" y="382.42" width="1" height="17.50" fill="url(#st)" opacity="0.26"/><rect x="391" y="382.66" width="1" height="17.26" fill="url(#st)" opacity="0.24"/><rect x="392" y="362.00" width="1" height="21.00" fill="url(#dk)" opacity="0.01"/><rect x="392" y="382.68" width="1" height="17.24" fill="url(#st)" opacity="0.73"/><rect x="393" y="378.67" width="1" height="21.25" fill="url(#st)" opacity="0.10"/><rect x="394" y="377.56" width="1" height="22.36" fill="url(#st)" opacity="0.13"/><rect x="395" y="362.00" width="1" height="21.00" fill="url(#up)" opacity="0.40"/><rect x="395" y="383.00" width="1" height="16.92" fill="url(#st)" opacity="0.07"/><rect x="396" y="362.00" width="1" height="21.00" fill="url(#up)" opacity="0.07"/><rect x="396" y="381.51" width="1" height="18.41" fill="url(#st)" opacity="0.25"/><rect x="397" y="362.00" width="1" height="21.00" fill="url(#dk)" opacity="0.21"/><rect x="397" y="382.30" width="1" height="17.62" fill="url(#st)" opacity="0.25"/><rect x="398" y="362.00" width="1" height="21.00" fill="url(#up)" opacity="0.32"/><rect x="398" y="382.99" width="1" height="16.93" fill="url(#st)" opacity="0.34"/><rect x="399" y="362.00" width="1" height="21.00" fill="url(#dk)" opacity="0.38"/><rect x="399" y="379.40" width="1" height="20.52" fill="url(#st)" opacity="0.18"/><rect x="400" y="362.00" width="1" height="21.00" fill="url(#up)" opacity="0.31"/><rect x="400" y="378.25" width="1" height="21.67" fill="url(#st)" opacity="0.43"/><rect x="401" y="380.64" width="1" height="19.28" fill="url(#st)" opacity="0.74"/><rect x="402" y="375.69" width="1" height="24.23" fill="url(#st)" opacity="0.15"/><rect x="403" y="362.00" width="1" height="21.00" fill="url(#up)" opacity="0.28"/><rect x="403" y="374.81" width="1" height="25.11" fill="url(#st)" opacity="0.22"/><rect x="404" y="362.00" width="1" height="21.00" fill="url(#up)" opacity="0.22"/><rect x="404" y="374.82" width="1" height="25.10" fill="url(#st)" opacity="0.11"/><rect x="405" y="362.00" width="1" height="21.00" fill="url(#dk)" opacity="0.29"/><rect x="405" y="374.90" width="1" height="25.02" fill="url(#st)" opacity="0.40"/><rect x="406" y="362.00" width="1" height="21.00" fill="url(#up)" opacity="0.38"/><rect x="406" y="382.07" width="1" height="17.85" fill="url(#st)" opacity="0.27"/><rect x="407" y="362.00" width="1" height="21.00" fill="url(#dk)" opacity="0.05"/><rect x="407" y="381.00" width="1" height="18.92" fill="url(#st)" opacity="0.20"/><rect x="408" y="362.00" width="1" height="21.00" fill="url(#up)" opacity="0.03"/><rect x="408" y="378.17" width="1" height="21.75" fill="url(#st)" opacity="0.22"/><rect x="409" y="362.00" width="1" height="21.00" fill="url(#dk)" opacity="0.12"/><rect x="409" y="381.44" width="1" height="18.48" fill="url(#st)" opacity="0.08"/><rect x="410" y="362.00" width="1" height="21.00" fill="url(#dk)" opacity="0.36"/><rect x="410" y="373.66" width="1" height="26.26" fill="url(#st)" opacity="0.34"/><rect x="411" y="381.22" width="1" height="18.70" fill="url(#st)" opacity="0.48"/><rect x="412" y="362.00" width="1" height="21.00" fill="url(#dk)" opacity="0.30"/><rect x="412" y="379.79" width="1" height="20.13" fill="url(#st)" opacity="0.61"/><rect x="413" y="362.00" width="1" height="21.00" fill="url(#dk)" opacity="0.32"/><rect x="413" y="382.85" width="1" height="17.07" fill="url(#st)" opacity="0.23"/><rect x="414" y="383.00" width="1" height="16.92" fill="url(#st)" opacity="0.08"/><rect x="415" y="362.00" width="1" height="21.00" fill="url(#dk)" opacity="0.13"/><rect x="415" y="382.96" width="1" height="16.96" fill="url(#st)" opacity="0.60"/><rect x="416" y="381.42" width="1" height="18.50" fill="url(#st)" opacity="0.12"/><rect x="417" y="362.00" width="1" height="21.00" fill="url(#up)" opacity="0.02"/><rect x="417" y="382.99" width="1" height="16.93" fill="url(#st)" opacity="0.60"/><rect x="418" y="362.00" width="1" height="21.00" fill="url(#up)" opacity="0.25"/><rect x="418" y="374.28" width="1" height="25.64" fill="url(#st)" opacity="0.72"/><rect x="419" y="362.00" width="1" height="21.00" fill="url(#up)" opacity="0.10"/><rect x="419" y="382.13" width="1" height="17.79" fill="url(#st)" opacity="0.64"/><rect x="420" y="382.62" width="1" height="17.30" fill="url(#st)" opacity="0.52"/><rect x="421" y="362.00" width="1" height="21.00" fill="url(#up)" opacity="0.24"/><rect x="421" y="382.70" width="1" height="17.22" fill="url(#st)" opacity="0.58"/><rect x="422" y="382.59" width="1" height="17.33" fill="url(#st)" opacity="0.31"/><rect x="423" y="362.00" width="1" height="21.00" fill="url(#dk)" opacity="0.35"/><rect x="423" y="382.97" width="1" height="16.95" fill="url(#st)" opacity="0.06"/><rect x="424" y="382.02" width="1" height="17.90" fill="url(#st)" opacity="0.61"/><rect x="425" y="377.91" width="1" height="22.01" fill="url(#st)" opacity="0.06"/><rect x="426" y="374.21" width="1" height="25.71" fill="url(#st)" opacity="0.17"/><rect x="427" y="362.00" width="1" height="21.00" fill="url(#dk)" opacity="0.09"/><rect x="427" y="382.06" width="1" height="17.86" fill="url(#st)" opacity="0.38"/><rect x="428" y="362.00" width="1" height="21.00" fill="url(#dk)" opacity="0.07"/><rect x="428" y="382.45" width="1" height="17.47" fill="url(#st)" opacity="0.33"/><rect x="429" y="381.61" width="1" height="18.31" fill="url(#st)" opacity="0.33"/><rect x="430" y="379.52" width="1" height="20.40" fill="url(#st)" opacity="0.08"/><rect x="431" y="362.00" width="1" height="21.00" fill="url(#up)" opacity="0.46"/><rect x="431" y="378.55" width="1" height="21.37" fill="url(#st)" opacity="0.09"/><rect x="432" y="382.92" width="1" height="17.00" fill="url(#st)" opacity="0.72"/><rect x="433" y="362.00" width="1" height="21.00" fill="url(#up)" opacity="0.26"/><rect x="433" y="380.18" width="1" height="19.74" fill="url(#st)" opacity="0.05"/><rect x="434" y="362.00" width="1" height="21.00" fill="url(#up)" opacity="0.14"/><rect x="434" y="382.37" width="1" height="17.55" fill="url(#st)" opacity="0.48"/><rect x="435" y="362.00" width="1" height="21.00" fill="url(#dk)" opacity="0.11"/><rect x="435" y="377.29" width="1" height="22.63" fill="url(#st)" opacity="0.08"/><rect x="436" y="362.00" width="1" height="21.00" fill="url(#dk)" opacity="0.22"/><rect x="436" y="382.65" width="1" height="17.27" fill="url(#st)" opacity="0.60"/><rect x="437" y="382.99" width="1" height="16.93" fill="url(#st)" opacity="0.18"/><rect x="438" y="381.52" width="1" height="18.40" fill="url(#st)" opacity="0.65"/><rect x="439" y="362.00" width="1" height="21.00" fill="url(#up)" opacity="0.09"/><rect x="439" y="379.91" width="1" height="20.01" fill="url(#st)" opacity="0.32"/><rect x="440" y="362.00" width="1" height="21.00" fill="url(#up)" opacity="0.33"/><rect x="440" y="376.87" width="1" height="23.05" fill="url(#st)" opacity="0.21"/><rect x="441" y="362.00" width="1" height="21.00" fill="url(#up)" opacity="0.42"/><rect x="441" y="378.32" width="1" height="21.60" fill="url(#st)" opacity="0.22"/><rect x="442" y="382.70" width="1" height="17.22" fill="url(#st)" opacity="0.45"/><rect x="443" y="362.00" width="1" height="21.00" fill="url(#dk)" opacity="0.24"/><rect x="443" y="382.45" width="1" height="17.47" fill="url(#st)" opacity="0.17"/><rect x="444" y="376.81" width="1" height="23.11" fill="url(#st)" opacity="0.47"/><rect x="445" y="362.00" width="1" height="21.00" fill="url(#dk)" opacity="0.20"/><rect x="445" y="382.51" width="1" height="17.41" fill="url(#st)" opacity="0.26"/><rect x="446" y="362.00" width="1" height="21.00" fill="url(#up)" opacity="0.02"/><rect x="446" y="379.44" width="1" height="20.48" fill="url(#st)" opacity="0.38"/><rect x="447" y="362.00" width="1" height="21.00" fill="url(#up)" opacity="0.44"/><rect x="447" y="382.68" width="1" height="17.24" fill="url(#st)" opacity="0.06"/><rect x="448" y="362.00" width="1" height="21.00" fill="url(#dk)" opacity="0.20"/><rect x="448" y="381.11" width="1" height="18.81" fill="url(#st)" opacity="0.17"/><rect x="449" y="362.00" width="1" height="21.00" fill="url(#dk)" opacity="0.32"/><rect x="449" y="382.95" width="1" height="16.97" fill="url(#st)" opacity="0.62"/><rect x="450" y="362.00" width="1" height="21.00" fill="url(#up)" opacity="0.27"/><rect x="450" y="376.73" width="1" height="23.19" fill="url(#st)" opacity="0.08"/><rect x="451" y="362.00" width="1" height="21.00" fill="url(#dk)" opacity="0.12"/><rect x="451" y="382.98" width="1" height="16.94" fill="url(#st)" opacity="0.10"/><rect x="452" y="380.24" width="1" height="19.68" fill="url(#st)" opacity="0.09"/><rect x="453" y="362.00" width="1" height="21.00" fill="url(#up)" opacity="0.04"/><rect x="453" y="376.27" width="1" height="23.65" fill="url(#st)" opacity="0.06"/><rect x="454" y="362.00" width="1" height="21.00" fill="url(#dk)" opacity="0.06"/><rect x="454" y="378.23" width="1" height="21.69" fill="url(#st)" opacity="0.52"/><rect x="455" y="382.96" width="1" height="16.96" fill="url(#st)" opacity="0.15"/><rect x="456" y="362.00" width="1" height="21.00" fill="url(#up)" opacity="0.11"/><rect x="456" y="373.58" width="1" height="26.34" fill="url(#st)" opacity="0.05"/><rect x="457" y="362.00" width="1" height="21.00" fill="url(#up)" opacity="0.38"/><rect x="457" y="373.27" width="1" height="26.65" fill="url(#st)" opacity="0.06"/><rect x="458" y="362.00" width="1" height="21.00" fill="url(#up)" opacity="0.37"/><rect x="458" y="382.98" width="1" height="16.94" fill="url(#st)" opacity="0.08"/><rect x="459" y="382.80" width="1" height="17.12" fill="url(#st)" opacity="0.14"/><rect x="460" y="362.00" width="1" height="21.00" fill="url(#dk)" opacity="0.17"/><rect x="460" y="382.94" width="1" height="16.98" fill="url(#st)" opacity="0.05"/><rect x="461" y="377.17" width="1" height="22.75" fill="url(#st)" opacity="0.40"/><rect x="462" y="362.00" width="1" height="21.00" fill="url(#dk)" opacity="0.10"/><rect x="462" y="379.95" width="1" height="19.97" fill="url(#st)" opacity="0.08"/><rect x="463" y="362.00" width="1" height="21.00" fill="url(#up)" opacity="0.47"/><rect x="463" y="381.68" width="1" height="18.24" fill="url(#st)" opacity="0.11"/><rect x="464" y="379.27" width="1" height="20.65" fill="url(#st)" opacity="0.05"/><rect x="465" y="362.00" width="1" height="21.00" fill="url(#up)" opacity="0.32"/><rect x="465" y="382.97" width="1" height="16.95" fill="url(#st)" opacity="0.12"/><rect x="466" y="375.53" width="1" height="24.39" fill="url(#st)" opacity="0.27"/><rect x="467" y="380.86" width="1" height="19.06" fill="url(#st)" opacity="0.14"/><rect x="468" y="381.55" width="1" height="18.37" fill="url(#st)" opacity="0.46"/><rect x="469" y="362.00" width="1" height="21.00" fill="url(#dk)" opacity="0.14"/><rect x="469" y="382.66" width="1" height="17.26" fill="url(#st)" opacity="0.24"/><rect x="470" y="362.00" width="1" height="21.00" fill="url(#dk)" opacity="0.08"/><rect x="470" y="382.54" width="1" height="17.38" fill="url(#st)" opacity="0.18"/><rect x="471" y="362.00" width="1" height="21.00" fill="url(#up)" opacity="0.22"/><rect x="471" y="373.13" width="1" height="26.79" fill="url(#st)" opacity="0.35"/><rect x="472" y="382.58" width="1" height="17.34" fill="url(#st)" opacity="0.13"/><rect x="473" y="362.00" width="1" height="21.00" fill="url(#dk)" opacity="0.28"/><rect x="473" y="381.68" width="1" height="18.24" fill="url(#st)" opacity="0.09"/><rect x="474" y="362.00" width="1" height="21.00" fill="url(#dk)" opacity="0.07"/><rect x="474" y="382.31" width="1" height="17.61" fill="url(#st)" opacity="0.14"/><rect x="475" y="377.88" width="1" height="22.04" fill="url(#st)" opacity="0.09"/><rect x="476" y="362.00" width="1" height="21.00" fill="url(#up)" opacity="0.08"/><rect x="476" y="374.23" width="1" height="25.69" fill="url(#st)" opacity="0.12"/><rect x="477" y="377.77" width="1" height="22.15" fill="url(#st)" opacity="0.61"/><rect x="478" y="362.00" width="1" height="21.00" fill="url(#dk)" opacity="0.13"/><rect x="478" y="381.52" width="1" height="18.40" fill="url(#st)" opacity="0.05"/><rect x="479" y="381.94" width="1" height="17.98" fill="url(#st)" opacity="0.44"/><rect x="480" y="362.00" width="1" height="21.00" fill="url(#up)" opacity="0.03"/><rect x="480" y="381.45" width="1" height="18.47" fill="url(#st)" opacity="0.08"/><rect x="481" y="362.00" width="1" height="21.00" fill="url(#dk)" opacity="0.06"/><rect x="481" y="379.46" width="1" height="20.46" fill="url(#st)" opacity="0.05"/><rect x="482" y="362.00" width="1" height="21.00" fill="url(#up)" opacity="0.21"/><rect x="482" y="380.04" width="1" height="19.88" fill="url(#st)" opacity="0.06"/><rect x="483" y="382.32" width="1" height="17.60" fill="url(#st)" opacity="0.40"/><rect x="484" y="382.78" width="1" height="17.14" fill="url(#st)" opacity="0.07"/><rect x="485" y="362.00" width="1" height="21.00" fill="url(#dk)" opacity="0.29"/><rect x="485" y="381.36" width="1" height="18.56" fill="url(#st)" opacity="0.14"/><rect x="486" y="382.49" width="1" height="17.43" fill="url(#st)" opacity="0.10"/><rect x="487" y="362.00" width="1" height="21.00" fill="url(#up)" opacity="0.11"/><rect x="487" y="382.98" width="1" height="16.94" fill="url(#st)" opacity="0.05"/><rect x="488" y="379.80" width="1" height="20.12" fill="url(#st)" opacity="0.49"/><rect x="489" y="382.11" width="1" height="17.81" fill="url(#st)" opacity="0.34"/><rect x="490" y="382.53" width="1" height="17.39" fill="url(#st)" opacity="0.36"/><rect x="491" y="373.88" width="1" height="26.04" fill="url(#st)" opacity="0.56"/><rect x="492" y="362.00" width="1" height="21.00" fill="url(#dk)" opacity="0.25"/><rect x="492" y="382.92" width="1" height="17.00" fill="url(#st)" opacity="0.16"/><rect x="493" y="362.00" width="1" height="21.00" fill="url(#up)" opacity="0.03"/><rect x="493" y="381.53" width="1" height="18.39" fill="url(#st)" opacity="0.11"/><rect x="494" y="362.00" width="1" height="21.00" fill="url(#up)" opacity="0.14"/><rect x="494" y="382.75" width="1" height="17.17" fill="url(#st)" opacity="0.14"/><rect x="495" y="362.00" width="1" height="21.00" fill="url(#up)" opacity="0.08"/><rect x="495" y="378.58" width="1" height="21.34" fill="url(#st)" opacity="0.08"/><rect x="496" y="362.00" width="1" height="21.00" fill="url(#dk)" opacity="0.14"/><rect x="496" y="381.22" width="1" height="18.70" fill="url(#st)" opacity="0.06"/><rect x="497" y="362.00" width="1" height="21.00" fill="url(#up)" opacity="0.35"/><rect x="497" y="379.94" width="1" height="19.98" fill="url(#st)" opacity="0.37"/><rect x="498" y="362.00" width="1" height="21.00" fill="url(#dk)" opacity="0.16"/><rect x="498" y="381.67" width="1" height="18.25" fill="url(#st)" opacity="0.05"/><rect x="499" y="362.00" width="1" height="21.00" fill="url(#up)" opacity="0.03"/><rect x="499" y="380.54" width="1" height="19.38" fill="url(#st)" opacity="0.27"/><rect x="500" y="362.00" width="1" height="21.00" fill="url(#up)" opacity="0.16"/><rect x="500" y="382.36" width="1" height="17.56" fill="url(#st)" opacity="0.05"/><rect x="501" y="362.00" width="1" height="21.00" fill="url(#up)" opacity="0.45"/><rect x="501" y="379.80" width="1" height="20.12" fill="url(#st)" opacity="0.09"/><rect x="502" y="382.65" width="1" height="17.27" fill="url(#st)" opacity="0.18"/><rect x="503" y="373.89" width="1" height="26.03" fill="url(#st)" opacity="0.13"/><rect x="504" y="362.00" width="1" height="21.00" fill="url(#up)" opacity="0.47"/><rect x="504" y="377.05" width="1" height="22.87" fill="url(#st)" opacity="0.30"/><rect x="505" y="381.31" width="1" height="18.61" fill="url(#st)" opacity="0.15"/><rect x="506" y="362.00" width="1" height="21.00" fill="url(#dk)" opacity="0.33"/><rect x="506" y="375.26" width="1" height="24.66" fill="url(#st)" opacity="0.13"/><rect x="507" y="382.99" width="1" height="16.93" fill="url(#st)" opacity="0.06"/><rect x="508" y="362.00" width="1" height="21.00" fill="url(#up)" opacity="0.15"/><rect x="508" y="381.70" width="1" height="18.22" fill="url(#st)" opacity="0.72"/><rect x="509" y="362.00" width="1" height="21.00" fill="url(#dk)" opacity="0.08"/><rect x="509" y="382.48" width="1" height="17.44" fill="url(#st)" opacity="0.35"/><rect x="510" y="362.00" width="1" height="21.00" fill="url(#dk)" opacity="0.00"/><rect x="510" y="380.04" width="1" height="19.88" fill="url(#st)" opacity="0.14"/><rect x="511" y="362.00" width="1" height="21.00" fill="url(#dk)" opacity="0.20"/><rect x="511" y="378.77" width="1" height="21.15" fill="url(#st)" opacity="0.24"/><rect x="512" y="379.86" width="1" height="20.06" fill="url(#st)" opacity="0.52"/><rect x="513" y="381.89" width="1" height="18.03" fill="url(#st)" opacity="0.12"/><rect x="514" y="382.02" width="1" height="17.90" fill="url(#st)" opacity="0.39"/><rect x="515" y="378.29" width="1" height="21.63" fill="url(#st)" opacity="0.70"/><rect x="516" y="382.75" width="1" height="17.17" fill="url(#st)" opacity="0.30"/><rect x="517" y="362.00" width="1" height="21.00" fill="url(#up)" opacity="0.28"/><rect x="517" y="381.63" width="1" height="18.29" fill="url(#st)" opacity="0.09"/><rect x="518" y="380.15" width="1" height="19.77" fill="url(#st)" opacity="0.08"/><rect x="519" y="362.00" width="1" height="21.00" fill="url(#dk)" opacity="0.13"/><rect x="519" y="382.68" width="1" height="17.24" fill="url(#st)" opacity="0.21"/><rect x="520" y="362.00" width="1" height="21.00" fill="url(#dk)" opacity="0.03"/><rect x="520" y="382.95" width="1" height="16.97" fill="url(#st)" opacity="0.05"/><rect x="521" y="382.87" width="1" height="17.05" fill="url(#st)" opacity="0.17"/><rect x="522" y="380.69" width="1" height="19.23" fill="url(#st)" opacity="0.06"/><rect x="523" y="375.43" width="1" height="24.49" fill="url(#st)" opacity="0.05"/><rect x="524" y="362.00" width="1" height="21.00" fill="url(#dk)" opacity="0.20"/><rect x="524" y="376.66" width="1" height="23.26" fill="url(#st)" opacity="0.14"/><rect x="525" y="382.37" width="1" height="17.55" fill="url(#st)" opacity="0.39"/><rect x="526" y="362.00" width="1" height="21.00" fill="url(#up)" opacity="0.17"/><rect x="526" y="377.24" width="1" height="22.68" fill="url(#st)" opacity="0.53"/><rect x="527" y="379.78" width="1" height="20.14" fill="url(#st)" opacity="0.15"/><rect x="528" y="379.12" width="1" height="20.80" fill="url(#st)" opacity="0.52"/><rect x="529" y="382.84" width="1" height="17.08" fill="url(#st)" opacity="0.13"/><rect x="530" y="382.47" width="1" height="17.45" fill="url(#st)" opacity="0.07"/><rect x="531" y="362.00" width="1" height="21.00" fill="url(#dk)" opacity="0.23"/><rect x="531" y="374.15" width="1" height="25.77" fill="url(#st)" opacity="0.71"/><rect x="532" y="362.00" width="1" height="21.00" fill="url(#dk)" opacity="0.28"/><rect x="532" y="381.24" width="1" height="18.68" fill="url(#st)" opacity="0.30"/><rect x="533" y="362.00" width="1" height="21.00" fill="url(#up)" opacity="0.47"/><rect x="533" y="373.22" width="1" height="26.70" fill="url(#st)" opacity="0.05"/><rect x="534" y="382.86" width="1" height="17.06" fill="url(#st)" opacity="0.05"/><rect x="535" y="362.00" width="1" height="21.00" fill="url(#dk)" opacity="0.29"/><rect x="535" y="373.13" width="1" height="26.79" fill="url(#st)" opacity="0.06"/><rect x="536" y="362.00" width="1" height="21.00" fill="url(#up)" opacity="0.01"/><rect x="536" y="380.06" width="1" height="19.86" fill="url(#st)" opacity="0.19"/><rect x="537" y="362.00" width="1" height="21.00" fill="url(#up)" opacity="0.15"/><rect x="537" y="376.59" width="1" height="23.33" fill="url(#st)" opacity="0.53"/><rect x="538" y="362.00" width="1" height="21.00" fill="url(#dk)" opacity="0.16"/><rect x="538" y="379.18" width="1" height="20.74" fill="url(#st)" opacity="0.44"/><rect x="539" y="381.48" width="1" height="18.44" fill="url(#st)" opacity="0.36"/><rect x="540" y="362.00" width="1" height="21.00" fill="url(#up)" opacity="0.40"/><rect x="540" y="382.78" width="1" height="17.14" fill="url(#st)" opacity="0.07"/><rect x="541" y="362.00" width="1" height="21.00" fill="url(#dk)" opacity="0.37"/><rect x="541" y="382.37" width="1" height="17.55" fill="url(#st)" opacity="0.19"/><rect x="542" y="362.00" width="1" height="21.00" fill="url(#dk)" opacity="0.13"/><rect x="542" y="383.00" width="1" height="16.92" fill="url(#st)" opacity="0.25"/><rect x="543" y="362.00" width="1" height="21.00" fill="url(#dk)" opacity="0.25"/><rect x="543" y="382.25" width="1" height="17.67" fill="url(#st)" opacity="0.08"/><rect x="544" y="362.00" width="1" height="21.00" fill="url(#up)" opacity="0.18"/><rect x="544" y="382.33" width="1" height="17.59" fill="url(#st)" opacity="0.05"/><rect x="545" y="362.00" width="1" height="21.00" fill="url(#dk)" opacity="0.36"/><rect x="545" y="382.04" width="1" height="17.88" fill="url(#st)" opacity="0.05"/><rect x="546" y="362.00" width="1" height="21.00" fill="url(#dk)" opacity="0.19"/><rect x="546" y="373.06" width="1" height="26.86" fill="url(#st)" opacity="0.07"/><rect x="547" y="380.65" width="1" height="19.27" fill="url(#st)" opacity="0.15"/><rect x="548" y="381.43" width="1" height="18.49" fill="url(#st)" opacity="0.05"/><rect x="549" y="362.00" width="1" height="21.00" fill="url(#up)" opacity="0.33"/><rect x="549" y="379.12" width="1" height="20.80" fill="url(#st)" opacity="0.09"/><rect x="550" y="375.52" width="1" height="24.40" fill="url(#st)" opacity="0.74"/><rect x="551" y="362.00" width="1" height="21.00" fill="url(#up)" opacity="0.42"/><rect x="551" y="377.74" width="1" height="22.18" fill="url(#st)" opacity="0.07"/><rect x="552" y="362.00" width="1" height="21.00" fill="url(#dk)" opacity="0.07"/><rect x="552" y="382.86" width="1" height="17.06" fill="url(#st)" opacity="0.05"/><rect x="553" y="362.00" width="1" height="21.00" fill="url(#up)" opacity="0.38"/><rect x="553" y="382.04" width="1" height="17.88" fill="url(#st)" opacity="0.21"/><rect x="554" y="362.00" width="1" height="21.00" fill="url(#dk)" opacity="0.08"/><rect x="554" y="373.80" width="1" height="26.12" fill="url(#st)" opacity="0.05"/><rect x="555" y="362.00" width="1" height="21.00" fill="url(#up)" opacity="0.41"/><rect x="555" y="376.72" width="1" height="23.20" fill="url(#st)" opacity="0.41"/><rect x="556" y="362.00" width="1" height="21.00" fill="url(#up)" opacity="0.40"/><rect x="556" y="376.15" width="1" height="23.77" fill="url(#st)" opacity="0.44"/><rect x="557" y="382.90" width="1" height="17.02" fill="url(#st)" opacity="0.68"/><rect x="558" y="362.00" width="1" height="21.00" fill="url(#up)" opacity="0.35"/><rect x="558" y="382.37" width="1" height="17.55" fill="url(#st)" opacity="0.62"/><rect x="559" y="362.00" width="1" height="21.00" fill="url(#dk)" opacity="0.23"/><rect x="559" y="382.48" width="1" height="17.44" fill="url(#st)" opacity="0.14"/><rect x="560" y="362.00" width="1" height="21.00" fill="url(#up)" opacity="0.33"/><rect x="560" y="376.43" width="1" height="23.49" fill="url(#st)" opacity="0.13"/><rect x="561" y="381.75" width="1" height="18.17" fill="url(#st)" opacity="0.09"/><rect x="562" y="381.97" width="1" height="17.95" fill="url(#st)" opacity="0.05"/><rect x="563" y="362.00" width="1" height="21.00" fill="url(#up)" opacity="0.37"/><rect x="563" y="382.55" width="1" height="17.37" fill="url(#st)" opacity="0.41"/><rect x="564" y="362.00" width="1" height="21.00" fill="url(#up)" opacity="0.34"/><rect x="564" y="382.69" width="1" height="17.23" fill="url(#st)" opacity="0.06"/><rect x="565" y="362.00" width="1" height="21.00" fill="url(#dk)" opacity="0.14"/><rect x="565" y="381.14" width="1" height="18.78" fill="url(#st)" opacity="0.05"/><rect x="566" y="362.00" width="1" height="21.00" fill="url(#up)" opacity="0.20"/><rect x="566" y="381.97" width="1" height="17.95" fill="url(#st)" opacity="0.23"/><rect x="567" y="382.58" width="1" height="17.34" fill="url(#st)" opacity="0.58"/><rect x="568" y="362.00" width="1" height="21.00" fill="url(#up)" opacity="0.38"/><rect x="568" y="382.88" width="1" height="17.04" fill="url(#st)" opacity="0.73"/><rect x="569" y="362.00" width="1" height="21.00" fill="url(#up)" opacity="0.48"/><rect x="569" y="382.52" width="1" height="17.40" fill="url(#st)" opacity="0.15"/><rect x="570" y="382.68" width="1" height="17.24" fill="url(#st)" opacity="0.09"/><rect x="571" y="374.02" width="1" height="25.90" fill="url(#st)" opacity="0.11"/><rect x="572" y="362.00" width="1" height="21.00" fill="url(#dk)" opacity="0.14"/><rect x="572" y="373.21" width="1" height="26.71" fill="url(#st)" opacity="0.06"/><rect x="573" y="381.57" width="1" height="18.35" fill="url(#st)" opacity="0.32"/><rect x="574" y="362.00" width="1" height="21.00" fill="url(#dk)" opacity="0.25"/><rect x="574" y="375.12" width="1" height="24.80" fill="url(#st)" opacity="0.55"/><rect x="575" y="380.45" width="1" height="19.47" fill="url(#st)" opacity="0.25"/><rect x="576" y="362.00" width="1" height="21.00" fill="url(#dk)" opacity="0.33"/><rect x="576" y="378.24" width="1" height="21.68" fill="url(#st)" opacity="0.17"/><rect x="577" y="381.24" width="1" height="18.68" fill="url(#st)" opacity="0.14"/><rect x="578" y="362.00" width="1" height="21.00" fill="url(#dk)" opacity="0.24"/><rect x="578" y="379.72" width="1" height="20.20" fill="url(#st)" opacity="0.21"/><rect x="579" y="362.00" width="1" height="21.00" fill="url(#dk)" opacity="0.25"/><rect x="579" y="381.00" width="1" height="18.92" fill="url(#st)" opacity="0.27"/><rect x="580" y="362.00" width="1" height="21.00" fill="url(#up)" opacity="0.47"/><rect x="580" y="382.77" width="1" height="17.15" fill="url(#st)" opacity="0.18"/><g shape-rendering="crispEdges"><rect x="120.5" y="30.5" width="461" height="142" fill="none" stroke="#000" stroke-width="1"/><rect x="120.5" y="184.5" width="461" height="142" fill="none" stroke="#000" stroke-width="1"/><rect x="120.5" y="338.5" width="461" height="142" fill="none" stroke="#000" stroke-width="1"/><line x1="120.5" y1="173" x2="120.5" y2="181" stroke="#000" stroke-width="1"/><line x1="134.5" y1="173" x2="134.5" y2="177" stroke="#000" stroke-width="1"/><line x1="149.5" y1="173" x2="149.5" y2="177" stroke="#000" stroke-width="1"/><line x1="164.5" y1="173" x2="164.5" y2="177" stroke="#000" stroke-width="1"/><line x1="179.5" y1="173" x2="179.5" y2="177" stroke="#000" stroke-width="1"/><line x1="194.5" y1="173" x2="194.5" y2="177" stroke="#000" stroke-width="1"/><line x1="209.5" y1="173" x2="209.5" y2="177" stroke="#000" stroke-width="1"/><line x1="224.5" y1="173" x2="224.5" y2="177" stroke="#000" stroke-width="1"/><line x1="238.5" y1="173" x2="238.5" y2="177" stroke="#000" stroke-width="1"/><line x1="253.5" y1="173" x2="253.5" y2="177" stroke="#000" stroke-width="1"/><line x1="268.5" y1="173" x2="268.5" y2="181" stroke="#000" stroke-width="1"/><line x1="283.5" y1="173" x2="283.5" y2="177" stroke="#000" stroke-width="1"/><line x1="298.5" y1="173" x2="298.5" y2="177" stroke="#000" stroke-width="1"/><line x1="313.5" y1="173" x2="313.5" y2="177" stroke="#000" stroke-width="1"/><line x1="328.5" y1="173" x2="328.5" y2="177" stroke="#000" stroke-width="1"/><line x1="343.5" y1="173" x2="343.5" y2="177" stroke="#000" stroke-width="1"/><line x1="357.5" y1="173" x2="357.5" y2="177" stroke="#000" stroke-width="1"/><line x1="372.5" y1="173" x2="372.5" y2="177" stroke="#000" stroke-width="1"/><line x1="387.5" y1="173" x2="387.5" y2="177" stroke="#000" stroke-width="1"/><line x1="402.5" y1="173" x2="402.5" y2="177" stroke="#000" stroke-width="1"/><line x1="417.5" y1="173" x2="417.5" y2="181" stroke="#000" stroke-width="1"/><line x1="432.5" y1="173" x2="432.5" y2="177" stroke="#000" stroke-width="1"/><line x1="447.5" y1="173" x2="447.5" y2="177" stroke="#000" stroke-width="1"/><line x1="462.5" y1="173" x2="462.5" y2="177" stroke="#000" stroke-width="1"/><line x1="476.5" y1="173" x2="476.5" y2="177" stroke="#000" stroke-width="1"/><line x1="491.5" y1="173" x2="491.5" y2="177" stroke="#000" stroke-width="1"/><line x1="506.5" y1="173" x2="506.5" y2="177" stroke="#000" stroke-width="1"/><line x1="521.5" y1="173" x2="521.5" y2="177" stroke="#000" stroke-width="1"/><line x1="536.5" y1="173" x2="536.5" y2="177" stroke="#000" stroke-width="1"/><line x1="551.5" y1="173" x2="551.5" y2="177" stroke="#000" stroke-width="1"/><line x1="566.5" y1="173" x2="566.5" y2="181" stroke="#000" stroke-width="1"/><line x1="581.5" y1="173" x2="581.5" y2="177" stroke="#000" stroke-width="1"/><line x1="120.5" y1="327" x2="120.5" y2="335" stroke="#000" stroke-width="1"/><line x1="134.5" y1="327" x2="134.5" y2="331" stroke="#000" stroke-width="1"/><line x1="149.5" y1="327" x2="149.5" y2="331" stroke="#000" stroke-width="1"/><line x1="164.5" y1="327" x2="164.5" y2="331" stroke="#000" stroke-width="1"/><line x1="179.5" y1="327" x2="179.5" y2="331" stroke="#000" stroke-width="1"/><line x1="194.5" y1="327" x2="194.5" y2="331" stroke="#000" stroke-width="1"/><line x1="209.5" y1="327" x2="209.5" y2="331" stroke="#000" stroke-width="1"/><line x1="224.5" y1="327" x2="224.5" y2="331" stroke="#000" stroke-width="1"/><line x1="238.5" y1="327" x2="238.5" y2="331" stroke="#000" stroke-width="1"/><line x1="253.5" y1="327" x2="253.5" y2="331" stroke="#000" stroke-width="1"/><line x1="268.5" y1="327" x2="268.5" y2="335" stroke="#000" stroke-width="1"/><line x1="283.5" y1="327" x2="283.5" y2="331" stroke="#000" stroke-width="1"/><line x1="298.5" y1="327" x2="298.5" y2="331" stroke="#000" stroke-width="1"/><line x1="313.5" y1="327" x2="313.5" y2="331" stroke="#000" stroke-width="1"/><line x1="328.5" y1="327" x2="328.5" y2="331" stroke="#000" stroke-width="1"/><line x1="343.5" y1="327" x2="343.5" y2="331" stroke="#000" stroke-width="1"/><line x1="357.5" y1="327" x2="357.5" y2="331" stroke="#000" stroke-width="1"/><line x1="372.5" y1="327" x2="372.5" y2="331" stroke="#000" stroke-width="1"/><line x1="387.5" y1="327" x2="387.5" y2="331" stroke="#000" stroke-width="1"/><line x1="402.5" y1="327" x2="402.5" y2="331" stroke="#000" stroke-width="1"/><line x1="417.5" y1="327" x2="417.5" y2="335" stroke="#000" stroke-width="1"/><line x1="432.5" y1="327" x2="432.5" y2="331" stroke="#000" stroke-width="1"/><line x1="447.5" y1="327" x2="447.5" y2="331" stroke="#000" stroke-width="1"/><line x1="462.5" y1="327" x2="462.5" y2="331" stroke="#000" stroke-width="1"/><line x1="476.5" y1="327" x2="476.5" y2="331" stroke="#000" stroke-width="1"/><line x1="491.5" y1="327" x2="491.5" y2="331" stroke="#000" stroke-width="1"/><line x1="506.5" y1="327" x2="506.5" y2="331" stroke="#000" stroke-width="1"/><line x1="521.5" y1="327" x2="521.5" y2="331" stroke="#000" stroke-width="1"/><line x1="536.5" y1="327" x2="536.5" y2="331" stroke="#000" stroke-width="1"/><line x1="551.5" y1="327" x2="551.5" y2="331" stroke="#000" stroke-width="1"/><line x1="566.5" y1="327" x2="566.5" y2="335" stroke="#000" stroke-width="1"/><line x1="581.5" y1="327" x2="581.5" y2="331" stroke="#000" stroke-width="1"/><line x1="120.5" y1="481" x2="120.5" y2="489" stroke="#000" stroke-width="1"/><line x1="134.5" y1="481" x2="134.5" y2="485" stroke="#000" stroke-width="1"/><line x1="149.5" y1="481" x2="149.5" y2="485" stroke="#000" stroke-width="1"/><line x1="164.5" y1="481" x2="164.5" y2="485" stroke="#000" stroke-width="1"/><line x1="179.5" y1="481" x2="179.5" y2="485" stroke="#000" stroke-width="1"/><line x1="194.5" y1="481" x2="194.5" y2="485" stroke="#000" stroke-width="1"/><line x1="209.5" y1="481" x2="209.5" y2="485" stroke="#000" stroke-width="1"/><line x1="224.5" y1="481" x2="224.5" y2="485" stroke="#000" stroke-width="1"/><line x1="238.5" y1="481" x2="238.5" y2="485" stroke="#000" stroke-width="1"/><line x1="253.5" y1="481" x2="253.5" y2="485" stroke="#000" stroke-width="1"/><line x1="268.5" y1="481" x2="268.5" y2="489" stroke="#000" stroke-width="1"/><line x1="283.5" y1="481" x2="283.5" y2="485" stroke="#000" stroke-width="1"/><line x1="298.5" y1="481" x2="298.5" y2="485" stroke="#000" stroke-width="1"/><line x1="313.5" y1="481" x2="313.5" y2="485" stroke="#000" stroke-width="1"/><line x1="328.5" y1="481" x2="328.5" y2="485" stroke="#000" stroke-width="1"/><line x1="343.5" y1="481" x2="343.5" y2="485" stroke="#000" stroke-width="1"/><line x1="357.5" y1="481" x2="357.5" y2="485" stroke="#000" stroke-width="1"/><line x1="372.5" y1="481" x2="372.5" y2="485" stroke="#000" stroke-width="1"/><line x1="387.5" y1="481" x2="387.5" y2="485" stroke="#000" stroke-width="1"/><line x1="402.5" y1="481" x2="402.5" y2="485" stroke="#000" stroke-width="1"/><line x1="417.5" y1="481" x2="417.5" y2="489" stroke="#000" stroke-width="1"/><line x1="432.5" y1="481" x2="432.5" y2="485" stroke="#000" stroke-width="1"/><line x1="447.5" y1="481" x2="447.5" y2="485" stroke="#000" stroke-width="1"/><line x1="462.5" y1="481" x2="462.5" y2="485" stroke="#000" stroke-width="1"/><line x1="476.5" y1="481" x2="476.5" y2="485" stroke="#000" stroke-width="1"/><line x1="491.5" y1="481" x2="491.5" y2="485" stroke="#000" stroke-width="1"/><line x1="506.5" y1="481" x2="506.5" y2="485" stroke="#000" stroke-width="1"/><line x1="521.5" y1="481" x2="521.5" y2="485" stroke="#000" stroke-width="1"/><line x1="536.5" y1="481" x2="536.5" y2="485" stroke="#000" stroke-width="1"/><line x1="551.5" y1="481" x2="551.5" y2="485" stroke="#000" stroke-width="1"/><line x1="566.5" y1="481" x2="566.5" y2="489" stroke="#000" stroke-width="1"/><line x1="581.5" y1="481" x2="581.5" y2="485" stroke="#000" stroke-width="1"/><line x1="112" y1="165.5" x2="120" y2="165.5" stroke="#000" stroke-width="1"/><line x1="112" y1="134.5" x2="120" y2="134.5" stroke="#000" stroke-width="1"/><line x1="112" y1="103.5" x2="120" y2="103.5" stroke="#000" stroke-width="1"/><line x1="112" y1="72.5" x2="120" y2="72.5" stroke="#000" stroke-width="1"/><line x1="112" y1="41.5" x2="120" y2="41.5" stroke="#000" stroke-width="1"/><line x1="116" y1="149.5" x2="120" y2="149.5" stroke="#000" stroke-width="1"/><line x1="116" y1="118.5" x2="120" y2="118.5" stroke="#000" stroke-width="1"/><line x1="116" y1="87.5" x2="120" y2="87.5" stroke="#000" stroke-width="1"/><line x1="116" y1="56.5" x2="120" y2="56.5" stroke="#000" stroke-width="1"/><line x1="112" y1="217.5" x2="120" y2="217.5" stroke="#000" stroke-width="1"/><line x1="112" y1="252.5" x2="120" y2="252.5" stroke="#000" stroke-width="1"/><line x1="112" y1="287.5" x2="120" y2="287.5" stroke="#000" stroke-width="1"/><line x1="112" y1="322.5" x2="120" y2="322.5" stroke="#000" stroke-width="1"/><line x1="116" y1="315.5" x2="120" y2="315.5" stroke="#000" stroke-width="1"/><line x1="116" y1="308.5" x2="120" y2="308.5" stroke="#000" stroke-width="1"/><line x1="116" y1="301.5" x2="120" y2="301.5" stroke="#000" stroke-width="1"/><line x1="116" y1="294.5" x2="120" y2="294.5" stroke="#000" stroke-width="1"/><line x1="116" y1="280.5" x2="120" y2="280.5" stroke="#000" stroke-width="1"/><line x1="116" y1="273.5" x2="120" y2="273.5" stroke="#000" stroke-width="1"/><line x1="116" y1="266.5" x2="120" y2="266.5" stroke="#000" stroke-width="1"/><line x1="116" y1="259.5" x2="120" y2="259.5" stroke="#000" stroke-width="1"/><line x1="116" y1="245.5" x2="120" y2="245.5" stroke="#000" stroke-width="1"/><line x1="116" y1="238.5" x2="120" y2="238.5" stroke="#000" stroke-width="1"/><line x1="116" y1="231.5" x2="120" y2="231.5" stroke="#000" stroke-width="1"/><line x1="116" y1="224.5" x2="120" y2="224.5" stroke="#000" stroke-width="1"/><line x1="116" y1="210.5" x2="120" y2="210.5" stroke="#000" stroke-width="1"/><line x1="116" y1="203.5" x2="120" y2="203.5" stroke="#000" stroke-width="1"/><line x1="116" y1="196.5" x2="120" y2="196.5" stroke="#000" stroke-width="1"/><line x1="116" y1="189.5" x2="120" y2="189.5" stroke="#000" stroke-width="1"/><line x1="112" y1="473.5" x2="120" y2="473.5" stroke="#000" stroke-width="1"/><line x1="112" y1="455.5" x2="120" y2="455.5" stroke="#000" stroke-width="1"/><line x1="112" y1="436.5" x2="120" y2="436.5" stroke="#000" stroke-width="1"/><line x1="112" y1="418.5" x2="120" y2="418.5" stroke="#000" stroke-width="1"/><line x1="112" y1="399.5" x2="120" y2="399.5" stroke="#000" stroke-width="1"/><line x1="112" y1="381.5" x2="120" y2="381.5" stroke="#000" stroke-width="1"/><line x1="112" y1="363.5" x2="120" y2="363.5" stroke="#000" stroke-width="1"/><line x1="112" y1="344.5" x2="120" y2="344.5" stroke="#000" stroke-width="1"/><line x1="116" y1="479.5" x2="120" y2="479.5" stroke="#000" stroke-width="1"/><line x1="116" y1="477.5" x2="120" y2="477.5" stroke="#000" stroke-width="1"/><line x1="116" y1="475.5" x2="120" y2="475.5" stroke="#000" stroke-width="1"/><line x1="116" y1="471.5" x2="120" y2="471.5" stroke="#000" stroke-width="1"/><line x1="116" y1="470.5" x2="120" y2="470.5" stroke="#000" stroke-width="1"/><line x1="116" y1="468.5" x2="120" y2="468.5" stroke="#000" stroke-width="1"/><line x1="116" y1="466.5" x2="120" y2="466.5" stroke="#000" stroke-width="1"/><line x1="116" y1="464.5" x2="120" y2="464.5" stroke="#000" stroke-width="1"/><line x1="116" y1="462.5" x2="120" y2="462.5" stroke="#000" stroke-width="1"/><line x1="116" y1="460.5" x2="120" y2="460.5" stroke="#000" stroke-width="1"/><line x1="116" y1="458.5" x2="120" y2="458.5" stroke="#000" stroke-width="1"/><line x1="116" y1="457.5" x2="120" y2="457.5" stroke="#000" stroke-width="1"/><line x1="116" y1="453.5" x2="120" y2="453.5" stroke="#000" stroke-width="1"/><line x1="116" y1="451.5" x2="120" y2="451.5" stroke="#000" stroke-width="1"/><line x1="116" y1="449.5" x2="120" y2="449.5" stroke="#000" stroke-width="1"/><line x1="116" y1="447.5" x2="120" y2="447.5" stroke="#000" stroke-width="1"/><line x1="116" y1="446.5" x2="120" y2="446.5" stroke="#000" stroke-width="1"/><line x1="116" y1="444.5" x2="120" y2="444.5" stroke="#000" stroke-width="1"/><line x1="116" y1="442.5" x2="120" y2="442.5" stroke="#000" stroke-width="1"/><line x1="116" y1="440.5" x2="120" y2="440.5" stroke="#000" stroke-width="1"/><line x1="116" y1="438.5" x2="120" y2="438.5" stroke="#000" stroke-width="1"/><line x1="116" y1="434.5" x2="120" y2="434.5" stroke="#000" stroke-width="1"/><line x1="116" y1="433.5" x2="120" y2="433.5" stroke="#000" stroke-width="1"/><line x1="116" y1="431.5" x2="120" y2="431.5" stroke="#000" stroke-width="1"/><line x1="116" y1="429.5" x2="120" y2="429.5" stroke="#000" stroke-width="1"/><line x1="116" y1="427.5" x2="120" y2="427.5" stroke="#000" stroke-width="1"/><line x1="116" y1="425.5" x2="120" y2="425.5" stroke="#000" stroke-width="1"/><line x1="116" y1="423.5" x2="120" y2="423.5" stroke="#000" stroke-width="1"/><line x1="116" y1="422.5" x2="120" y2="422.5" stroke="#000" stroke-width="1"/><line x1="116" y1="420.5" x2="120" y2="420.5" stroke="#000" stroke-width="1"/><line x1="116" y1="416.5" x2="120" y2="416.5" stroke="#000" stroke-width="1"/><line x1="116" y1="414.5" x2="120" y2="414.5" stroke="#000" stroke-width="1"/><line x1="116" y1="412.5" x2="120" y2="412.5" stroke="#000" stroke-width="1"/><line x1="116" y1="410.5" x2="120" y2="410.5" stroke="#000" stroke-width="1"/><line x1="116" y1="409.5" x2="120" y2="409.5" stroke="#000" stroke-width="1"/><line x1="116" y1="407.5" x2="120" y2="407.5" stroke="#000" stroke-width="1"/><line x1="116" y1="405.5" x2="120" y2="405.5" stroke="#000" stroke-width="1"/><line x1="116" y1="403.5" x2="120" y2="403.5" stroke="#000" stroke-width="1"/><line x1="116" y1="401.5" x2="120" y2="401.5" stroke="#000" stroke-width="1"/><line x1="116" y1="398.5" x2="120" y2="398.5" stroke="#000" stroke-width="1"/><line x1="116" y1="396.5" x2="120" y2="396.5" stroke="#000" stroke-width="1"/><line x1="116" y1="394.5" x2="120" y2="394.5" stroke="#000" stroke-width="1"/><line x1="116" y1="392.5" x2="120" y2="392.5" stroke="#000" stroke-width="1"/><line x1="116" y1="390.5" x2="120" y2="390.5" stroke="#000" stroke-width="1"/><line x1="116" y1="388.5" x2="120" y2="388.5" stroke="#000" stroke-width="1"/><line x1="116" y1="386.5" x2="120" y2="386.5" stroke="#000" stroke-width="1"/><line x1="116" y1="385.5" x2="120" y2="385.5" stroke="#000" stroke-width="1"/><line x1="116" y1="383.5" x2="120" y2="383.5" stroke="#000" stroke-width="1"/><line x1="116" y1="379.5" x2="120" y2="379.5" stroke="#000" stroke-width="1"/><line x1="116" y1="377.5" x2="120" y2="377.5" stroke="#000" stroke-width="1"/><line x1="116" y1="375.5" x2="120" y2="375.5" stroke="#000" stroke-width="1"/><line x1="116" y1="374.5" x2="120" y2="374.5" stroke="#000" stroke-width="1"/><line x1="116" y1="372.5" x2="120" y2="372.5" stroke="#000" stroke-width="1"/><line x1="116" y1="370.5" x2="120" y2="370.5" stroke="#000" stroke-width="1"/><line x1="116" y1="368.5" x2="120" y2="368.5" stroke="#000" stroke-width="1"/><line x1="116" y1="366.5" x2="120" y2="366.5" stroke="#000" stroke-width="1"/><line x1="116" y1="364.5" x2="120" y2="364.5" stroke="#000" stroke-width="1"/><line x1="116" y1="361.5" x2="120" y2="361.5" stroke="#000" stroke-width="1"/><line x1="116" y1="359.5" x2="120" y2="359.5" stroke="#000" stroke-width="1"/><line x1="116" y1="357.5" x2="120" y2="357.5" stroke="#000" stroke-width="1"/><line x1="116" y1="355.5" x2="120" y2="355.5" stroke="#000" stroke-width="1"/><line x1="116" y1="353.5" x2="120" y2="353.5" stroke="#000" stroke-width="1"/><line x1="116" y1="351.5" x2="120" y2="351.5" stroke="#000" stroke-width="1"/><line x1="116" y1="350.5" x2="120" y2="350.5" stroke="#000" stroke-width="1"/><line x1="116" y1="348.5" x2="120" y2="348.5" stroke="#000" stroke-width="1"/><line x1="116" y1="346.5" x2="120" y2="346.5" stroke="#000" stroke-width="1"/><line x1="116" y1="342.5" x2="120" y2="342.5" stroke="#000" stroke-width="1"/><line x1="116" y1="340.5" x2="120" y2="340.5" stroke="#000" stroke-width="1"/><line x1="116" y1="339.5" x2="120" y2="339.5" stroke="#000" stroke-width="1"/><defs><linearGradient id="cb" x1="0" y1="0" x2="0" y2="1"><stop offset="0" stop-color="#ff0000"/><stop offset="0.03" stop-color="#ff0000"/><stop offset="0.168" stop-color="#ff8000"/><stop offset="0.35" stop-color="#ffff00"/><stop offset="0.406" stop-color="#a0ff00"/><stop offset="0.49" stop-color="#00ff00"/><stop offset="0.608" stop-color="#00ff64"/><stop offset="0.741" stop-color="#00ffff"/><stop offset="0.797" stop-color="#0096ff"/><stop offset="0.867" stop-color="#0000ff"/><stop offset="0.993" stop-color="#000082"/><stop offset="1" stop-color="#000040"/></linearGradient></defs><rect x="593" y="338" width="12" height="143" fill="url(#cb)"/><line x1="605.5" y1="338" x2="605.5" y2="481" stroke="#000" stroke-width="1"/><line x1="593" y1="480.5" x2="606" y2="480.5" stroke="#000" stroke-width="1"/><line x1="606" y1="338.5" x2="614" y2="338.5" stroke="#000" stroke-width="1"/><line x1="606" y1="370.5" x2="614" y2="370.5" stroke="#000" stroke-width="1"/><line x1="606" y1="402.5" x2="614" y2="402.5" stroke="#000" stroke-width="1"/><line x1="606" y1="434.5" x2="614" y2="434.5" stroke="#000" stroke-width="1"/><line x1="606" y1="467.5" x2="614" y2="467.5" stroke="#000" stroke-width="1"/><line x1="606" y1="480.5" x2="610" y2="480.5" stroke="#000" stroke-width="1"/><line x1="606" y1="476.5" x2="610" y2="476.5" stroke="#000" stroke-width="1"/><line x1="606" y1="474.5" x2="610" y2="474.5" stroke="#000" stroke-width="1"/><line x1="606" y1="472.5" x2="610" y2="472.5" stroke="#000" stroke-width="1"/><line x1="606" y1="470.5" x2="610" y2="470.5" stroke="#000" stroke-width="1"/><line x1="606" y1="468.5" x2="610" y2="468.5" stroke="#000" stroke-width="1"/><line x1="606" y1="457.5" x2="610" y2="457.5" stroke="#000" stroke-width="1"/><line x1="606" y1="451.5" x2="610" y2="451.5" stroke="#000" stroke-width="1"/><line x1="606" y1="447.5" x2="610" y2="447.5" stroke="#000" stroke-width="1"/><line x1="606" y1="444.5" x2="610" y2="444.5" stroke="#000" stroke-width="1"/><line x1="606" y1="442.5" x2="610" y2="442.5" stroke="#000" stroke-width="1"/><line x1="606" y1="439.5" x2="610" y2="439.5" stroke="#000" stroke-width="1"/><line x1="606" y1="438.5" x2="610" y2="438.5" stroke="#000" stroke-width="1"/><line x1="606" y1="436.5" x2="610" y2="436.5" stroke="#000" stroke-width="1"/><line x1="606" y1="425.5" x2="610" y2="425.5" stroke="#000" stroke-width="1"/><line x1="606" y1="419.5" x2="610" y2="419.5" stroke="#000" stroke-width="1"/><line x1="606" y1="415.5" x2="610" y2="415.5" stroke="#000" stroke-width="1"/><line x1="606" y1="412.5" x2="610" y2="412.5" stroke="#000" stroke-width="1"/><line x1="606" y1="409.5" x2="610" y2="409.5" stroke="#000" stroke-width="1"/><line x1="606" y1="407.5" x2="610" y2="407.5" stroke="#000" stroke-width="1"/><line x1="606" y1="405.5" x2="610" y2="405.5" stroke="#000" stroke-width="1"/><line x1="606" y1="404.5" x2="610" y2="404.5" stroke="#000" stroke-width="1"/><line x1="606" y1="392.5" x2="610" y2="392.5" stroke="#000" stroke-width="1"/><line x1="606" y1="387.5" x2="610" y2="387.5" stroke="#000" stroke-width="1"/><line x1="606" y1="383.5" x2="610" y2="383.5" stroke="#000" stroke-width="1"/><line x1="606" y1="380.5" x2="610" y2="380.5" stroke="#000" stroke-width="1"/><line x1="606" y1="377.5" x2="610" y2="377.5" stroke="#000" stroke-width="1"/><line x1="606" y1="375.5" x2="610" y2="375.5" stroke="#000" stroke-width="1"/><line x1="606" y1="373.5" x2="610" y2="373.5" stroke="#000" stroke-width="1"/><line x1="606" y1="371.5" x2="610" y2="371.5" stroke="#000" stroke-width="1"/><line x1="606" y1="360.5" x2="610" y2="360.5" stroke="#000" stroke-width="1"/><line x1="606" y1="355.5" x2="610" y2="355.5" stroke="#000" stroke-width="1"/><line x1="606" y1="351.5" x2="610" y2="351.5" stroke="#000" stroke-width="1"/><line x1="606" y1="347.5" x2="610" y2="347.5" stroke="#000" stroke-width="1"/><line x1="606" y1="345.5" x2="610" y2="345.5" stroke="#000" stroke-width="1"/><line x1="606" y1="343.5" x2="610" y2="343.5" stroke="#000" stroke-width="1"/><line x1="606" y1="341.5" x2="610" y2="341.5" stroke="#000" stroke-width="1"/><line x1="606" y1="339.5" x2="610" y2="339.5" stroke="#000" stroke-width="1"/></g><polyline points="120.50,118.90 121.00,118.90 121.40,160.75 123.30,160.75 124.00,154.55 124.60,154.55 125.50,149.90 126.40,149.90 127.40,165.40 132.50,165.40 133.20,160.75 134.20,160.75 135.00,165.40 136.30,165.40 136.80,149.90 137.90,149.90 138.60,154.55 141.30,154.55 142.70,165.40 145.40,165.40 146.10,160.75 147.40,154.55 149.50,154.55 150.30,160.75 150.80,165.40 151.30,160.75 152.60,160.75 153.30,165.40 156.90,165.40 157.60,160.75 158.90,160.75 159.60,165.40 160.40,160.75 162.30,160.75 163.00,165.40 163.80,160.75 165.70,160.75 166.40,165.40 169.80,165.40 170.40,160.75 173.80,160.75 174.50,165.40 175.20,165.40 175.80,160.75 177.90,160.75 179.60,134.40 180.20,134.40 181.90,160.75 183.30,149.90 184.60,149.90 186.00,160.75 188.00,160.75 188.70,154.55 190.10,154.55 190.70,165.40 194.80,165.40 196.80,145.25 197.50,145.25 198.20,154.55 199.30,154.55 200.30,160.75 200.90,160.75 201.60,145.25 203.30,145.25 204.20,160.75 205.20,154.55 210.50,154.55 211.40,149.90 211.90,149.90 212.60,165.40 219.90,165.40 220.70,160.75 221.50,165.40 236.50,165.40 237.30,154.55 238.30,149.90 240.00,149.90 240.60,154.55 242.00,154.55 242.50,165.40 245.70,165.40 246.50,154.55 247.70,154.55 248.50,145.25 250.00,134.40 251.00,134.40 251.80,149.90 252.70,149.90 253.20,165.40 255.30,165.40 256.00,139.05 256.90,139.05 257.90,145.25 259.50,139.05 261.30,134.40 266.40,134.40 266.70,98.75 268.60,98.75 269.40,114.25 272.50,123.55 275.20,123.55 277.80,114.25 278.60,114.25 279.80,108.05 281.40,108.05 282.00,114.25 284.00,123.55 287.00,114.25 289.00,114.25 290.00,118.90 291.20,145.25 292.00,145.25 292.80,154.55 294.30,154.55 295.10,149.90 296.60,123.55 298.10,123.55 298.90,129.75 300.10,123.55 301.70,123.55 302.70,149.90 308.80,149.90 309.60,134.40 310.50,134.40 311.90,165.40 313.40,154.55 314.50,154.55 315.70,139.05 317.30,154.55 318.50,134.40 320.30,134.40 321.10,154.55 322.60,149.90 324.20,145.25 325.70,145.25 326.80,160.75 333.30,160.75 334.10,149.90 335.30,149.90 335.90,160.75 337.20,149.90 337.90,149.90 339.50,160.75 342.50,160.75 343.30,154.55 346.40,154.55 347.10,160.75 348.60,160.75 349.10,165.40 351.70,165.40 353.20,154.55 354.80,160.75 356.30,129.75 358.60,129.75 359.40,123.55 361.20,123.55 361.70,108.05 362.90,108.05 364.00,103.40 366.60,103.40 367.40,108.05 368.50,108.05 369.40,129.75 370.50,129.75 371.20,114.25 372.50,114.25 372.80,108.05 381.70,108.05 382.70,114.25 385.00,114.25 385.50,103.40 386.50,103.40 387.80,123.55 388.80,123.55 389.60,114.25 391.50,129.75 395.70,129.75 396.50,139.05 398.50,139.05 399.10,129.75 401.60,129.75 402.60,118.90 405.20,118.90 406.50,129.75 408.30,134.40 409.20,134.40 409.80,123.55 411.00,123.55 411.80,103.40 413.30,103.40 414.10,114.25 415.60,123.55 416.40,123.55 417.90,114.25 420.20,114.25 421.80,118.90 422.50,134.40 424.50,134.40 425.60,123.55 427.10,114.25 428.60,118.90 429.40,118.90 430.90,145.25 432.50,139.05 433.20,139.05 434.80,129.75 436.30,145.25 439.40,145.25 440.10,129.75 442.40,129.75 444.00,114.25 445.50,129.75 449.00,129.75 452.00,129.75 452.80,134.40 457.40,134.40 458.90,154.55 460.20,129.75 461.20,129.75 462.70,160.75 463.50,149.90 466.60,149.90 468.10,154.55 469.60,160.75 472.70,160.75 474.20,149.90 475.40,145.25 476.00,145.25 477.00,160.75 478.50,165.40 480.00,165.40 480.60,154.55 481.60,154.55 482.20,165.40 483.40,154.55 484.60,154.55 486.50,160.75 488.00,165.40 491.00,165.40 491.80,154.55 492.90,154.55 493.80,165.40 495.60,160.75 497.90,160.75 499.50,154.55 501.80,154.55 502.50,165.40 504.50,165.40 505.10,154.55 507.10,154.55 508.60,139.05 509.40,139.05 510.90,145.25 512.80,149.90 514.80,149.90 515.50,154.55 517.10,154.55 517.80,139.05 518.90,139.05 519.80,134.40 521.70,118.90 522.40,118.90 523.50,129.75 525.50,160.75 532.00,160.75 533.00,154.55 533.60,154.55 534.30,165.40 541.10,165.40 541.90,154.55 543.00,154.55 544.20,160.75 545.50,165.40 547.30,160.75 549.10,145.25 550.00,145.25 550.80,139.05 554.20,139.05 554.90,160.75 556.10,160.75 557.20,149.90 559.50,149.90 561.00,145.25 562.60,154.55 564.10,160.75 566.90,160.75 567.90,154.55 571.00,154.55 572.10,149.90 574.10,145.25 576.30,145.25 577.90,123.55 579.40,134.40 581.00,134.40" fill="none" stroke="#000" stroke-width="1.1" stroke-linejoin="miter"/><polyline points="120.35,219.40 120.99,218.50 121.71,216.24 122.61,213.53 123.33,212.18 123.96,214.89 124.59,216.24 125.32,215.79 126.22,217.14 127.12,215.79 128.02,214.89 128.93,216.69 129.83,216.69 130.73,214.89 131.63,214.44 132.53,216.24 133.26,218.95 133.89,217.59 134.79,216.24 135.69,215.79 136.59,214.89 137.50,213.99 138.40,213.08 139.30,212.63 139.93,213.53 140.65,214.44 141.56,210.38 142.28,209.93 142.73,212.63 143.36,214.44 144.26,215.34 145.17,215.79 146.07,216.24 146.97,215.34 147.87,216.24 148.78,215.34 149.68,214.44 150.58,215.34 151.48,214.89 152.38,215.34 153.29,214.89 154.19,214.44 155.09,215.79 155.54,217.14 156.44,214.89 157.35,212.63 158.25,213.08 159.15,215.34 160.05,216.24 160.96,214.44 161.86,213.53 162.76,212.18 163.66,211.28 164.57,211.73 165.47,212.63 166.37,213.08 167.27,212.18 168.17,212.63 169.08,211.73 169.98,211.28 170.88,210.38 171.78,211.28 172.69,212.63 173.59,210.38 174.49,209.47 175.39,209.93 176.29,211.28 177.20,211.73 178.10,213.08 178.73,215.79 179.90,217.59 180.80,217.59 181.71,214.44 182.61,212.63 183.51,211.73 184.41,213.08 185.32,213.53 186.22,213.99 187.12,216.69 188.02,218.95 188.93,218.50 189.83,217.14 190.73,216.69 191.63,217.59 192.53,218.50 193.44,217.59 194.34,218.05 195.24,218.50 196.14,218.95 197.05,216.69 197.95,215.79 198.85,215.34 199.75,213.53 200.65,211.28 201.56,209.93 202.46,211.28 203.36,212.63 204.26,213.08 205.17,213.53 206.07,214.44 206.97,218.05 207.87,218.95 208.78,219.85 209.68,221.65 210.58,221.20 211.48,218.95 212.38,216.69 213.29,214.89 214.19,213.99 215.09,214.89 215.99,214.44 216.90,213.99 217.80,214.89 218.70,213.08 219.60,212.18 220.51,213.99 221.41,215.34 222.31,216.69 223.21,216.24 224.11,215.79 225.02,214.89 225.92,213.99 226.82,213.08 227.72,212.63 228.63,211.73 229.53,211.28 230.43,211.73 231.33,213.99 232.23,214.89 233.14,212.63 234.04,212.18 234.94,212.63 235.84,211.73 236.75,212.18 237.65,211.28 238.55,210.83 239.90,209.93 240.80,211.28 241.71,211.73 242.61,212.63 243.51,213.53 244.41,214.44 245.32,214.89 246.22,210.83 247.12,212.18 248.02,216.24 248.93,219.40 249.83,220.30 250.73,220.75 251.63,220.75 252.53,218.95 253.44,218.50 254.34,218.05 255.24,215.79 256.14,217.14 257.05,221.20 257.95,223.01 258.85,223.91 259.75,223.46 260.65,221.65 261.56,216.69 262.46,215.79 263.36,215.34 264.26,209.02 265.17,207.22 266.07,207.22 266.79,217.59 267.42,231.58 268.05,227.07 268.78,224.36 269.41,221.65 270.13,226.17 271.03,227.07 271.93,228.87 272.84,230.68 273.74,229.78 274.64,232.03 275.54,230.23 276.44,227.07 277.35,228.87 278.25,231.13 279.15,226.17 280.05,224.81 280.96,227.07 281.86,225.26 282.76,223.46 283.66,223.91 284.57,225.26 285.47,234.74 286.37,231.58 287.27,232.03 288.17,232.48 289.08,233.38 289.53,234.74 290.43,231.58 291.33,228.42 292.23,226.62 293.14,228.42 294.04,227.52 294.94,227.52 295.84,227.07 296.75,226.62 297.65,226.62 298.55,226.17 299.90,226.65 300.80,229.36 301.53,230.26 302.16,228.46 303.06,226.65 303.96,227.56 304.86,228.91 305.77,223.95 306.67,222.14 307.57,222.59 308.47,223.95 309.38,225.30 310.28,226.20 311.18,224.85 312.08,223.05 312.99,222.14 313.89,222.14 314.79,221.69 315.69,221.69 316.59,221.24 317.50,223.50 318.40,225.30 319.30,224.85 320.20,223.05 321.11,220.79 322.01,221.24 322.91,221.69 323.81,221.69 324.72,222.59 325.62,223.50 326.52,223.95 327.42,223.95 328.32,223.95 329.23,223.05 330.13,221.24 331.03,219.44 331.93,216.73 332.84,214.93 333.74,216.73 334.64,219.44 335.54,221.24 336.44,223.95 337.35,224.40 338.25,223.95 339.15,222.59 340.05,221.24 340.96,220.79 341.86,222.14 342.76,222.14 343.66,220.34 344.57,219.44 345.47,219.44 346.37,217.63 347.27,214.47 348.17,214.93 349.08,215.38 349.98,214.02 350.88,215.38 351.78,218.08 352.69,222.14 353.59,218.53 354.49,220.79 355.39,221.24 356.29,222.14 357.20,220.79 358.10,219.44 358.82,216.73 358.92,217.40 359.72,210.52 360.41,199.06 360.99,188.73 361.56,199.06 362.13,211.67 362.59,226.00 362.61,226.20 363.51,224.85 364.23,222.14 364.86,226.20 365.77,229.36 366.67,230.26 367.57,240.19 368.47,234.78 369.38,231.17 370.28,229.36 371.18,232.07 372.08,233.87 372.99,236.13 373.89,234.78 374.79,231.62 375.69,232.07 376.59,231.62 377.50,231.17 378.40,230.72 379.30,229.81 380.20,228.91 381.11,232.07 382.01,234.78 382.91,236.13 383.81,233.87 384.72,230.26 385.62,228.46 386.52,232.07 387.42,234.32 388.32,231.17 389.23,231.62 390.13,231.17 391.03,231.62 391.93,231.17 392.84,230.26 393.74,229.36 394.64,228.01 395.54,227.11 396.44,226.65 397.35,227.56 398.25,229.36 398.70,224.40 399.60,226.20 400.51,226.20 401.41,224.40 402.31,222.59 403.21,220.79 404.11,219.44 405.02,221.24 405.92,224.85 406.82,226.20 407.72,228.01 408.63,226.65 409.53,226.65 410.43,224.85 411.33,221.69 412.23,223.05 413.14,224.85 414.04,223.50 414.94,224.40 415.84,228.46 416.75,230.26 417.65,228.91 418.82,226.65 419.90,227.97 420.80,229.78 421.71,228.87 422.61,225.72 423.51,224.36 424.41,223.46 425.32,223.91 426.22,224.36 427.12,228.87 428.02,231.13 428.93,231.13 429.83,227.97 430.73,226.17 431.63,225.26 432.53,221.65 433.44,222.11 434.34,223.01 435.24,224.36 436.14,223.01 437.05,223.01 437.95,222.56 438.85,222.11 439.75,223.01 440.65,224.81 441.56,226.17 442.46,227.52 443.36,227.97 444.26,229.78 445.17,226.62 446.07,225.26 446.97,225.26 447.87,223.01 448.78,221.20 449.68,220.75 450.58,222.56 451.48,225.26 452.38,226.17 453.29,224.81 454.19,221.65 455.09,220.75 455.99,221.20 456.90,222.56 457.80,223.91 458.70,225.26 459.60,226.17 460.51,224.81 461.41,223.01 462.31,221.20 463.21,219.40 464.11,221.65 465.02,224.36 465.92,225.26 466.82,223.91 467.72,223.01 468.63,222.11 469.53,221.20 470.43,221.20 471.33,223.01 472.23,222.11 473.14,220.30 474.04,219.40 474.94,221.65 475.66,224.36 476.29,222.56 477.20,218.50 478.10,217.59 479.00,217.59 479.90,219.36 480.80,220.26 481.71,222.07 482.61,221.62 483.51,222.07 484.41,221.62 485.32,222.52 486.22,222.07 487.12,221.62 488.02,220.26 488.93,220.26 489.83,220.72 490.73,221.62 491.18,222.07 492.08,218.01 492.99,215.75 493.89,213.50 494.52,212.14 495.24,214.40 496.14,217.56 497.05,219.36 497.95,220.26 498.85,217.56 499.75,218.46 500.65,219.36 501.56,218.91 502.46,215.75 503.36,215.30 504.26,215.30 505.17,213.50 506.07,208.53 506.97,207.18 507.69,205.38 508.32,209.44 509.23,214.40 510.13,218.01 511.03,219.36 511.93,218.91 512.84,219.36 513.74,219.36 514.64,219.81 515.54,221.17 516.44,214.85 517.35,213.50 518.25,212.59 519.15,215.75 520.05,217.56 520.96,217.56 521.86,217.11 522.76,215.75 523.39,214.40 524.11,215.75 525.02,217.11 525.92,218.46 526.82,219.81 527.72,222.52 528.63,218.91 529.53,218.91 530.43,220.26 531.33,221.62 532.23,222.07 533.14,222.52 534.04,223.87 534.94,225.68 535.84,225.68 536.75,223.87 537.65,220.26 538.55,216.65 538.93,215.75 539.83,214.40 540.73,215.75 541.63,218.91 542.53,220.26 543.44,220.72 544.34,222.07 545.24,222.07 546.14,217.56 547.05,213.05 547.95,212.14 548.85,214.85 549.75,222.07 550.65,222.97 551.56,221.62 552.46,219.81 553.36,216.65 554.26,214.85 555.17,214.40 556.07,215.30 556.97,214.85 557.87,213.95 558.78,210.79 559.68,209.44 560.13,213.05 560.58,217.56 561.30,222.07 562.20,218.91 563.11,217.56 564.01,218.46 564.91,220.26 565.81,217.56 566.72,211.24 567.62,208.53 568.52,209.89 569.42,210.79 570.32,209.44 571.23,209.89 572.13,211.24 572.76,213.05 573.66,209.89 574.57,213.05 575.47,216.65 576.37,218.91 577.27,214.85 578.17,218.46 579.08,222.07 579.98,223.87 580.88,223.42" fill="none" stroke="#000" stroke-width="1.3" stroke-linejoin="round"/>
<g opacity="0.999"><text x="107.5" y="169.70000000000002" text-anchor="end" font-size="12" textLength="6.83" lengthAdjust="spacingAndGlyphs" >0</text><text x="107.5" y="138.70000000000002" text-anchor="end" font-size="12" textLength="14.46" lengthAdjust="spacingAndGlyphs" >20</text><text x="107.5" y="107.7" text-anchor="end" font-size="12" textLength="14.46" lengthAdjust="spacingAndGlyphs" >40</text><text x="107.5" y="76.7" text-anchor="end" font-size="12" textLength="14.46" lengthAdjust="spacingAndGlyphs" >60</text><text x="107.5" y="45.7" text-anchor="end" font-size="12" textLength="14.46" lengthAdjust="spacingAndGlyphs" >80</text><text x="107.5" y="221.70000000000002" text-anchor="end" font-size="12" textLength="6.83" lengthAdjust="spacingAndGlyphs" >0</text><text x="107.5" y="256.765" text-anchor="end" font-size="12" textLength="18.79" lengthAdjust="spacingAndGlyphs" >-50</text><text x="107.5" y="291.83000000000004" text-anchor="end" font-size="12" textLength="26.42" lengthAdjust="spacingAndGlyphs" >-100</text><text x="107.5" y="326.89500000000004" text-anchor="end" font-size="12" textLength="26.42" lengthAdjust="spacingAndGlyphs" >-150</text><text x="107.5" y="478.06" text-anchor="end" font-size="12" textLength="11.16" lengthAdjust="spacingAndGlyphs" >-1</text><text x="107.5" y="459.6" text-anchor="end" font-size="12" textLength="6.83" lengthAdjust="spacingAndGlyphs" >0</text><text x="107.5" y="441.14000000000004" text-anchor="end" font-size="12" textLength="6.83" lengthAdjust="spacingAndGlyphs" >1</text><text x="107.5" y="422.68" text-anchor="end" font-size="12" textLength="6.83" lengthAdjust="spacingAndGlyphs" >2</text><text x="107.5" y="404.22" text-anchor="end" font-size="12" textLength="6.83" lengthAdjust="spacingAndGlyphs" >3</text><text x="107.5" y="385.76000000000005" text-anchor="end" font-size="12" textLength="6.83" lengthAdjust="spacingAndGlyphs" >4</text><text x="107.5" y="367.3" text-anchor="end" font-size="12" textLength="6.83" lengthAdjust="spacingAndGlyphs" >5</text><text x="107.5" y="348.84000000000003" text-anchor="end" font-size="12" textLength="6.83" lengthAdjust="spacingAndGlyphs" >6</text><text x="119.25" y="504" text-anchor="middle" font-size="12" textLength="69.5" lengthAdjust="spacingAndGlyphs" >2007-12-01</text><text x="267.25" y="504" text-anchor="middle" font-size="12" textLength="69.5" lengthAdjust="spacingAndGlyphs" >2007-12-11</text><text x="416.25" y="504" text-anchor="middle" font-size="12" textLength="69.5" lengthAdjust="spacingAndGlyphs" >2007-12-21</text><text x="565.25" y="504" text-anchor="middle" font-size="12" textLength="69.5" lengthAdjust="spacingAndGlyphs" >2007-12-31</text><text transform="translate(46.8,101.4) rotate(-90)" text-anchor="middle" font-size="12" textLength="15.0" lengthAdjust="spacingAndGlyphs">Kp</text><text transform="translate(58.6,103.8) rotate(-90)" text-anchor="middle" font-size="12" textLength="85.6" lengthAdjust="spacingAndGlyphs">(e.g. 3+ = 33,</text><text transform="translate(70.8,103.6) rotate(-90)" text-anchor="middle" font-size="12" textLength="48.75" lengthAdjust="spacingAndGlyphs">6- = 57,</text><text transform="translate(82.9,103.5) rotate(-90)" text-anchor="middle" font-size="12" textLength="75.8" lengthAdjust="spacingAndGlyphs">4 = 40, etc.)</text><text transform="translate(71.4,254.2) rotate(-90)" text-anchor="middle" font-size="12" textLength="24.0" lengthAdjust="spacingAndGlyphs">DST</text><text transform="translate(87.1,408.0) rotate(-90)" text-anchor="middle" font-size="12" textLength="68.5" lengthAdjust="spacingAndGlyphs">Proton Flux</text><text x="617" y="346.0" font-size="12" textLength="15.3" lengthAdjust="spacingAndGlyphs">10</text><text x="633.6" y="340.0" font-size="12.2">3</text><text x="617" y="378.2" font-size="12" textLength="15.3" lengthAdjust="spacingAndGlyphs">10</text><text x="633.6" y="372.2" font-size="12.2">2</text><text x="617" y="410.5" font-size="12" textLength="15.3" lengthAdjust="spacingAndGlyphs">10</text><text x="633.6" y="404.5" font-size="12.2">1</text><text x="617" y="442.8" font-size="12" textLength="15.3" lengthAdjust="spacingAndGlyphs">10</text><text x="633.6" y="436.8" font-size="12.2">0</text><text x="617" y="475.0" font-size="12" textLength="15.3" lengthAdjust="spacingAndGlyphs">10</text><text x="633.6" y="469.0" font-size="12.2">-1</text></g>
</svg></body></html>
